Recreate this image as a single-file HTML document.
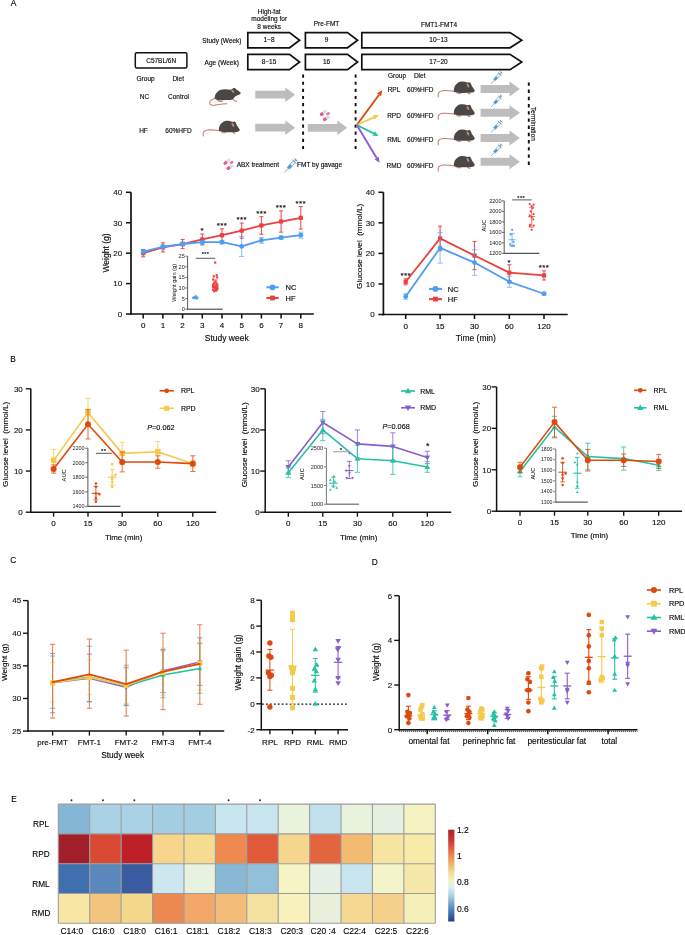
<!DOCTYPE html>
<html><head><meta charset="utf-8"><style>
html,body{margin:0;padding:0;background:#fff;overflow:hidden;}
svg{display:block;font-family:"Liberation Sans", sans-serif;will-change:transform;}
text{stroke:#1a1a1a;stroke-width:0.14px;}
</style></head><body>
<svg width="685" height="935" viewBox="0 0 685 935">
<rect width="685" height="935" fill="#fff"/>
<text x="13.5" y="6.24" font-size="8.5" text-anchor="middle" fill="#000">A</text>
<text x="269.2" y="14.03" font-size="6.5" text-anchor="middle" fill="#000">High-fat</text>
<text x="269.2" y="21.23" font-size="6.5" text-anchor="middle" fill="#000">modeling for</text>
<text x="269.2" y="28.53" font-size="6.5" text-anchor="middle" fill="#000">8 weeks</text>
<text x="326.5" y="26.33" font-size="6.5" text-anchor="middle" fill="#000">Pre-FMT</text>
<text x="439" y="27.13" font-size="6.5" text-anchor="middle" fill="#000">FMT1-FMT4</text>
<text x="221.9" y="42.53" font-size="6.5" text-anchor="middle" fill="#000">Study (Week)</text>
<text x="221.7" y="64.63" font-size="6.5" text-anchor="middle" fill="#000">Age (Week)</text>
<path d="M247.8,32.6 L289.5,32.6 L299.6,40.2 L289.5,47.8 L247.8,47.8 Z" fill="#fff" stroke="#111" stroke-width="1.7" stroke-linejoin="miter"/>
<path d="M305.4,32.6 L347.5,32.6 L357.6,40.2 L347.5,47.8 L305.4,47.8 Z" fill="#fff" stroke="#111" stroke-width="1.7" stroke-linejoin="miter"/>
<path d="M361.8,32.6 L510,32.6 L521.8,40.2 L510,47.8 L361.8,47.8 Z" fill="#fff" stroke="#111" stroke-width="1.7" stroke-linejoin="miter"/>
<path d="M247.8,54.4 L289.5,54.4 L299.6,62 L289.5,69.6 L247.8,69.6 Z" fill="#fff" stroke="#111" stroke-width="1.7" stroke-linejoin="miter"/>
<path d="M305.4,54.4 L347.5,54.4 L357.6,62 L347.5,69.6 L305.4,69.6 Z" fill="#fff" stroke="#111" stroke-width="1.7" stroke-linejoin="miter"/>
<path d="M361.8,54.4 L510,54.4 L521.8,62 L510,69.6 L361.8,69.6 Z" fill="#fff" stroke="#111" stroke-width="1.7" stroke-linejoin="miter"/>
<text x="269" y="42.33" font-size="6.5" text-anchor="middle" fill="#000">1~8</text>
<text x="269" y="64.13" font-size="6.5" text-anchor="middle" fill="#000">8~15</text>
<text x="326.5" y="42.33" font-size="6.5" text-anchor="middle" fill="#000">9</text>
<text x="326.5" y="64.13" font-size="6.5" text-anchor="middle" fill="#000">16</text>
<text x="438.5" y="42.33" font-size="6.5" text-anchor="middle" fill="#000">10~13</text>
<text x="438.5" y="64.13" font-size="6.5" text-anchor="middle" fill="#000">17~20</text>
<rect x="135.3" y="52.8" width="51.6" height="15.2" fill="#fff" stroke="#111" stroke-width="1.5" rx="1.5"/>
<text x="161.2" y="62.63" font-size="6.5" text-anchor="middle" fill="#000">C57BL/6N</text>
<text x="145.6" y="80.53" font-size="6.5" text-anchor="middle" fill="#000">Group</text>
<text x="178.2" y="80.53" font-size="6.5" text-anchor="middle" fill="#000">Diet</text>
<text x="144.5" y="99.23" font-size="6.5" text-anchor="middle" fill="#000">NC</text>
<text x="178.5" y="99.23" font-size="6.5" text-anchor="middle" fill="#000">Control</text>
<text x="143.5" y="132.93" font-size="6.5" text-anchor="middle" fill="#000">HF</text>
<text x="178.5" y="132.93" font-size="6.5" text-anchor="middle" fill="#000">60%HFD</text>
<g transform="translate(205,84) scale(1)">
<path d="M10.2,14.5 C7,15 4.8,16.5 4.7,19 C4.7,21 7,21.6 9.5,21.2 C13,20.7 17,19.8 21.9,19.7" fill="none" stroke="#c27b72" stroke-width="1.05" stroke-linecap="round"/>
<path d="M12.5,15.8 L14,17.3 L17,17.4" fill="none" stroke="#c27b72" stroke-width="1.1" stroke-linecap="round"/>
<path d="M27.5,14.8 L29.5,16.8 L31.8,17.2" fill="none" stroke="#c27b72" stroke-width="1.1" stroke-linecap="round"/>
<path d="M9.6,13.7 C9.8,10.5 12.5,7 15.8,5.8 C18,5 22,5 25.7,5.8 L28.3,4.2 C29.5,3.8 30.5,4.3 31,5.2 C33,6.2 34.5,7.5 35.9,9.1 C35.5,10.3 34,10.9 32.5,11.2 C31,11.8 30,12.5 29,14 C28,15.3 26.5,16 25.5,16 C23,16 21,15.8 18,16.2 C15,16.6 12,16.2 10.6,15.3 C10,14.9 9.6,14.3 9.6,13.7 Z" fill="#4b4745" stroke="none" stroke-width="1"/>
<path d="M26.2,5.4 C27.8,5.2 29,6.6 29.1,9 C27.5,9 26.3,7.4 26.2,5.4 Z" fill="#c98a80" stroke="none" stroke-width="1"/>
</g>
<g transform="translate(200,116) scale(1)">
<path d="M19.2,14.6 C15,14.2 11,13.6 8,14 C5,14.4 3.5,15.5 3.3,17 C3.1,18 3.2,19 3.3,20" fill="none" stroke="#c27b72" stroke-width="1.05" stroke-linecap="round"/>
<path d="M21.8,16 L23,16.6 L25.7,16.7" fill="none" stroke="#c27b72" stroke-width="1.1" stroke-linecap="round"/>
<path d="M32.8,16 L33.5,16.9 L35,17.2" fill="none" stroke="#c27b72" stroke-width="1.1" stroke-linecap="round"/>
<path d="M18.9,14.5 C18.5,10.5 21,6.5 24.5,5.3 C27,4.5 30,4.8 32.3,5.9 L34.8,5.5 C35.8,6.5 36.5,8 36.9,9.5 C38,10.8 39.3,12.5 39.8,14 C39.5,15.3 38,15.8 36.5,15.9 C34,16.2 30,16.3 26,16.2 C23,16.1 20.5,15.8 19.5,15.3 C19.1,15.1 18.9,14.8 18.9,14.5 Z" fill="#4b4745" stroke="none" stroke-width="1"/>
<path d="M31.5,6.9 C33.2,6.9 34.4,8.5 34.3,11 C32.7,10.9 31.5,9.2 31.5,6.9 Z" fill="#c98a80" stroke="none" stroke-width="1"/>
</g>
<path d="M255.3,90.8 L285.3,90.8 L285.3,87.4 L295.1,94.7 L285.3,102 L285.3,98.6 L255.3,98.6 Z" fill="#bdbdbd" stroke="none" stroke-width="1" stroke-linejoin="round"/>
<path d="M255.3,123.8 L285.3,123.8 L285.3,120.4 L295.1,127.7 L285.3,135 L285.3,131.6 L255.3,131.6 Z" fill="#bdbdbd" stroke="none" stroke-width="1" stroke-linejoin="round"/>
<path d="M307.8,123.9 L337.3,123.9 L337.3,120.5 L347.2,127.8 L337.3,135.1 L337.3,131.7 L307.8,131.7 Z" fill="#bdbdbd" stroke="none" stroke-width="1" stroke-linejoin="round"/>
<g transform="translate(325.2,115.6) scale(1)">
<g transform="translate(-1.9,-2.7) rotate(-40)">
<path d="M-1.2,-1.45 L-2.4,-1.45 A1.45,1.45 0 0 0 -2.4,1.45 L-1.2,1.45 Z" fill="#e35b80" stroke="none" stroke-width="1"/>
<path d="M-1.2,-1.45 L2.4,-1.45 A1.45,1.45 0 0 1 2.4,1.45 L-1.2,1.45 Z" fill="#dcdcdc" stroke="none" stroke-width="1"/>
<path d="M-1.2,-1.45 L-2.4,-1.45 A1.45,1.45 0 0 0 -2.4,1.45 L-0.2,1.45 L-0.2,-1.45 Z" fill="#e35b80" stroke="none" stroke-width="1"/>
</g>
<g transform="translate(1.3,2.8) rotate(-30)">
<path d="M-1.2,-1.45 L-2.4,-1.45 A1.45,1.45 0 0 0 -2.4,1.45 L-1.2,1.45 Z" fill="#e35b80" stroke="none" stroke-width="1"/>
<path d="M-1.2,-1.45 L2.4,-1.45 A1.45,1.45 0 0 1 2.4,1.45 L-1.2,1.45 Z" fill="#dcdcdc" stroke="none" stroke-width="1"/>
<path d="M-1.2,-1.45 L-2.4,-1.45 A1.45,1.45 0 0 0 -2.4,1.45 L-0.2,1.45 L-0.2,-1.45 Z" fill="#e35b80" stroke="none" stroke-width="1"/>
</g>
<ellipse cx="2.8" cy="-1.9" rx="2.0" ry="1.5" fill="#e67a9a" transform="rotate(-30 2.8 -1.9)"/>
</g>
<line x1="303.1" y1="74.5" x2="303.1" y2="149.1" stroke="#111" stroke-width="1.9" stroke-dasharray="3.2,3.94"/>
<line x1="355.6" y1="74.5" x2="355.6" y2="149.1" stroke="#111" stroke-width="1.9" stroke-dasharray="3.2,3.94"/>
<line x1="356.8" y1="125" x2="379.04" y2="94.73" stroke="#dc4a10" stroke-width="1.9"/>
<path d="M382.3,90.3 L381.06,96.21 L377.03,93.25 Z" fill="#dc4a10" stroke="none" stroke-width="1"/>
<line x1="356.8" y1="125" x2="373.89" y2="117.27" stroke="#f5c94a" stroke-width="1.9"/>
<path d="M378.9,115 L374.92,119.55 L372.86,114.99 Z" fill="#f5c94a" stroke="none" stroke-width="1"/>
<line x1="356.8" y1="125" x2="373.68" y2="133.44" stroke="#25c1a5" stroke-width="1.9"/>
<path d="M378.6,135.9 L372.56,135.68 L374.8,131.2 Z" fill="#25c1a5" stroke="none" stroke-width="1"/>
<line x1="356.8" y1="125" x2="376.66" y2="157.99" stroke="#8a5ccf" stroke-width="1.9"/>
<path d="M379.5,162.7 L374.52,159.28 L378.8,156.7 Z" fill="#8a5ccf" stroke="none" stroke-width="1"/>
<text x="397" y="77.63" font-size="6.5" text-anchor="middle" fill="#000">Group</text>
<text x="419.7" y="77.63" font-size="6.5" text-anchor="middle" fill="#000">Diet</text>
<text x="394" y="92.23" font-size="6.5" text-anchor="middle" fill="#000">RPL</text>
<text x="420.3" y="92.23" font-size="6.5" text-anchor="middle" fill="#000">60%HFD</text>
<text x="394" y="117.63" font-size="6.5" text-anchor="middle" fill="#000">RPD</text>
<text x="420.3" y="117.63" font-size="6.5" text-anchor="middle" fill="#000">60%HFD</text>
<text x="394" y="141.83" font-size="6.5" text-anchor="middle" fill="#000">RML</text>
<text x="420.3" y="141.83" font-size="6.5" text-anchor="middle" fill="#000">60%HFD</text>
<text x="394" y="168.13" font-size="6.5" text-anchor="middle" fill="#000">RMD</text>
<text x="420.3" y="168.13" font-size="6.5" text-anchor="middle" fill="#000">60%HFD</text>
<g transform="translate(435,76.7) scale(1)">
<path d="M19.2,14.6 C15,14.2 11,13.6 8,14 C5,14.4 3.5,15.5 3.3,17 C3.1,18 3.2,19 3.3,20" fill="none" stroke="#c27b72" stroke-width="1.05" stroke-linecap="round"/>
<path d="M21.8,16 L23,16.6 L25.7,16.7" fill="none" stroke="#c27b72" stroke-width="1.1" stroke-linecap="round"/>
<path d="M32.8,16 L33.5,16.9 L35,17.2" fill="none" stroke="#c27b72" stroke-width="1.1" stroke-linecap="round"/>
<path d="M18.9,14.5 C18.5,10.5 21,6.5 24.5,5.3 C27,4.5 30,4.8 32.3,5.9 L34.8,5.5 C35.8,6.5 36.5,8 36.9,9.5 C38,10.8 39.3,12.5 39.8,14 C39.5,15.3 38,15.8 36.5,15.9 C34,16.2 30,16.3 26,16.2 C23,16.1 20.5,15.8 19.5,15.3 C19.1,15.1 18.9,14.8 18.9,14.5 Z" fill="#4b4745" stroke="none" stroke-width="1"/>
<path d="M31.5,6.9 C33.2,6.9 34.4,8.5 34.3,11 C32.7,10.9 31.5,9.2 31.5,6.9 Z" fill="#c98a80" stroke="none" stroke-width="1"/>
</g>
<g transform="translate(435,99.3) scale(1)">
<path d="M19.2,14.6 C15,14.2 11,13.6 8,14 C5,14.4 3.5,15.5 3.3,17 C3.1,18 3.2,19 3.3,20" fill="none" stroke="#c27b72" stroke-width="1.05" stroke-linecap="round"/>
<path d="M21.8,16 L23,16.6 L25.7,16.7" fill="none" stroke="#c27b72" stroke-width="1.1" stroke-linecap="round"/>
<path d="M32.8,16 L33.5,16.9 L35,17.2" fill="none" stroke="#c27b72" stroke-width="1.1" stroke-linecap="round"/>
<path d="M18.9,14.5 C18.5,10.5 21,6.5 24.5,5.3 C27,4.5 30,4.8 32.3,5.9 L34.8,5.5 C35.8,6.5 36.5,8 36.9,9.5 C38,10.8 39.3,12.5 39.8,14 C39.5,15.3 38,15.8 36.5,15.9 C34,16.2 30,16.3 26,16.2 C23,16.1 20.5,15.8 19.5,15.3 C19.1,15.1 18.9,14.8 18.9,14.5 Z" fill="#4b4745" stroke="none" stroke-width="1"/>
<path d="M31.5,6.9 C33.2,6.9 34.4,8.5 34.3,11 C32.7,10.9 31.5,9.2 31.5,6.9 Z" fill="#c98a80" stroke="none" stroke-width="1"/>
</g>
<g transform="translate(435,124.6) scale(1)">
<path d="M19.2,14.6 C15,14.2 11,13.6 8,14 C5,14.4 3.5,15.5 3.3,17 C3.1,18 3.2,19 3.3,20" fill="none" stroke="#c27b72" stroke-width="1.05" stroke-linecap="round"/>
<path d="M21.8,16 L23,16.6 L25.7,16.7" fill="none" stroke="#c27b72" stroke-width="1.1" stroke-linecap="round"/>
<path d="M32.8,16 L33.5,16.9 L35,17.2" fill="none" stroke="#c27b72" stroke-width="1.1" stroke-linecap="round"/>
<path d="M18.9,14.5 C18.5,10.5 21,6.5 24.5,5.3 C27,4.5 30,4.8 32.3,5.9 L34.8,5.5 C35.8,6.5 36.5,8 36.9,9.5 C38,10.8 39.3,12.5 39.8,14 C39.5,15.3 38,15.8 36.5,15.9 C34,16.2 30,16.3 26,16.2 C23,16.1 20.5,15.8 19.5,15.3 C19.1,15.1 18.9,14.8 18.9,14.5 Z" fill="#4b4745" stroke="none" stroke-width="1"/>
<path d="M31.5,6.9 C33.2,6.9 34.4,8.5 34.3,11 C32.7,10.9 31.5,9.2 31.5,6.9 Z" fill="#c98a80" stroke="none" stroke-width="1"/>
</g>
<g transform="translate(435,151.1) scale(1)">
<path d="M19.2,14.6 C15,14.2 11,13.6 8,14 C5,14.4 3.5,15.5 3.3,17 C3.1,18 3.2,19 3.3,20" fill="none" stroke="#c27b72" stroke-width="1.05" stroke-linecap="round"/>
<path d="M21.8,16 L23,16.6 L25.7,16.7" fill="none" stroke="#c27b72" stroke-width="1.1" stroke-linecap="round"/>
<path d="M32.8,16 L33.5,16.9 L35,17.2" fill="none" stroke="#c27b72" stroke-width="1.1" stroke-linecap="round"/>
<path d="M18.9,14.5 C18.5,10.5 21,6.5 24.5,5.3 C27,4.5 30,4.8 32.3,5.9 L34.8,5.5 C35.8,6.5 36.5,8 36.9,9.5 C38,10.8 39.3,12.5 39.8,14 C39.5,15.3 38,15.8 36.5,15.9 C34,16.2 30,16.3 26,16.2 C23,16.1 20.5,15.8 19.5,15.3 C19.1,15.1 18.9,14.8 18.9,14.5 Z" fill="#4b4745" stroke="none" stroke-width="1"/>
<path d="M31.5,6.9 C33.2,6.9 34.4,8.5 34.3,11 C32.7,10.9 31.5,9.2 31.5,6.9 Z" fill="#c98a80" stroke="none" stroke-width="1"/>
</g>
<path d="M480.6,85 L509.5,85 L509.5,81.5 L519.9,89 L509.5,96.5 L509.5,93 L480.6,93 Z" fill="#bdbdbd" stroke="none" stroke-width="1" stroke-linejoin="round"/>
<path d="M480.6,108.7 L509.5,108.7 L509.5,105.2 L519.9,112.7 L509.5,120.2 L509.5,116.7 L480.6,116.7 Z" fill="#bdbdbd" stroke="none" stroke-width="1" stroke-linejoin="round"/>
<path d="M480.6,134 L509.5,134 L509.5,130.5 L519.9,138 L509.5,145.5 L509.5,142 L480.6,142 Z" fill="#bdbdbd" stroke="none" stroke-width="1" stroke-linejoin="round"/>
<path d="M480.6,157.7 L509.5,157.7 L509.5,154.2 L519.9,161.7 L509.5,169.2 L509.5,165.7 L480.6,165.7 Z" fill="#bdbdbd" stroke="none" stroke-width="1" stroke-linejoin="round"/>
<g transform="translate(491,83.8) rotate(-48) scale(0.88)">
<line x1="0" y1="0" x2="5.8" y2="0" stroke="#7aa2c4" stroke-width="0.8"/>
<rect x="5.8" y="-1.5" width="9.2" height="3" fill="#e6eef4" stroke="#6f9cc2" stroke-width="0.6"/>
<rect x="6" y="-1.25" width="4.2" height="2.5" fill="#3c98dc" stroke="none" stroke-width="1"/>
<line x1="15" y1="-2.6" x2="15" y2="2.6" stroke="#5f8fb8" stroke-width="0.9"/>
<line x1="15" y1="0" x2="17.3" y2="0" stroke="#5f8fb8" stroke-width="0.9"/>
<line x1="17.3" y1="-1.9" x2="17.3" y2="1.9" stroke="#5f8fb8" stroke-width="1"/>
</g>
<g transform="translate(491,107.1) rotate(-48) scale(0.88)">
<line x1="0" y1="0" x2="5.8" y2="0" stroke="#7aa2c4" stroke-width="0.8"/>
<rect x="5.8" y="-1.5" width="9.2" height="3" fill="#e6eef4" stroke="#6f9cc2" stroke-width="0.6"/>
<rect x="6" y="-1.25" width="4.2" height="2.5" fill="#3c98dc" stroke="none" stroke-width="1"/>
<line x1="15" y1="-2.6" x2="15" y2="2.6" stroke="#5f8fb8" stroke-width="0.9"/>
<line x1="15" y1="0" x2="17.3" y2="0" stroke="#5f8fb8" stroke-width="0.9"/>
<line x1="17.3" y1="-1.9" x2="17.3" y2="1.9" stroke="#5f8fb8" stroke-width="1"/>
</g>
<g transform="translate(491,132.5) rotate(-48) scale(0.88)">
<line x1="0" y1="0" x2="5.8" y2="0" stroke="#7aa2c4" stroke-width="0.8"/>
<rect x="5.8" y="-1.5" width="9.2" height="3" fill="#e6eef4" stroke="#6f9cc2" stroke-width="0.6"/>
<rect x="6" y="-1.25" width="4.2" height="2.5" fill="#3c98dc" stroke="none" stroke-width="1"/>
<line x1="15" y1="-2.6" x2="15" y2="2.6" stroke="#5f8fb8" stroke-width="0.9"/>
<line x1="15" y1="0" x2="17.3" y2="0" stroke="#5f8fb8" stroke-width="0.9"/>
<line x1="17.3" y1="-1.9" x2="17.3" y2="1.9" stroke="#5f8fb8" stroke-width="1"/>
</g>
<g transform="translate(491,156.1) rotate(-48) scale(0.88)">
<line x1="0" y1="0" x2="5.8" y2="0" stroke="#7aa2c4" stroke-width="0.8"/>
<rect x="5.8" y="-1.5" width="9.2" height="3" fill="#e6eef4" stroke="#6f9cc2" stroke-width="0.6"/>
<rect x="6" y="-1.25" width="4.2" height="2.5" fill="#3c98dc" stroke="none" stroke-width="1"/>
<line x1="15" y1="-2.6" x2="15" y2="2.6" stroke="#5f8fb8" stroke-width="0.9"/>
<line x1="15" y1="0" x2="17.3" y2="0" stroke="#5f8fb8" stroke-width="0.9"/>
<line x1="17.3" y1="-1.9" x2="17.3" y2="1.9" stroke="#5f8fb8" stroke-width="1"/>
</g>
<line x1="528.8" y1="82.4" x2="528.8" y2="165.1" stroke="#111" stroke-width="1.9" stroke-dasharray="3.4,3.8"/>
<text x="533.8" y="126.18" font-size="6.65" text-anchor="middle" fill="#000" transform="rotate(90 533.8 123.8)">Termination</text>
<g transform="translate(228.8,164.4) scale(1)">
<g transform="translate(-1.9,-2.7) rotate(-40)">
<path d="M-1.2,-1.45 L-2.4,-1.45 A1.45,1.45 0 0 0 -2.4,1.45 L-1.2,1.45 Z" fill="#e35b80" stroke="none" stroke-width="1"/>
<path d="M-1.2,-1.45 L2.4,-1.45 A1.45,1.45 0 0 1 2.4,1.45 L-1.2,1.45 Z" fill="#dcdcdc" stroke="none" stroke-width="1"/>
<path d="M-1.2,-1.45 L-2.4,-1.45 A1.45,1.45 0 0 0 -2.4,1.45 L-0.2,1.45 L-0.2,-1.45 Z" fill="#e35b80" stroke="none" stroke-width="1"/>
</g>
<g transform="translate(1.3,2.8) rotate(-30)">
<path d="M-1.2,-1.45 L-2.4,-1.45 A1.45,1.45 0 0 0 -2.4,1.45 L-1.2,1.45 Z" fill="#e35b80" stroke="none" stroke-width="1"/>
<path d="M-1.2,-1.45 L2.4,-1.45 A1.45,1.45 0 0 1 2.4,1.45 L-1.2,1.45 Z" fill="#dcdcdc" stroke="none" stroke-width="1"/>
<path d="M-1.2,-1.45 L-2.4,-1.45 A1.45,1.45 0 0 0 -2.4,1.45 L-0.2,1.45 L-0.2,-1.45 Z" fill="#e35b80" stroke="none" stroke-width="1"/>
</g>
<ellipse cx="2.8" cy="-1.9" rx="2.0" ry="1.5" fill="#e67a9a" transform="rotate(-30 2.8 -1.9)"/>
</g>
<text x="236.7" y="167.13" font-size="6.5" text-anchor="start" fill="#000">ABX treatment</text>
<g transform="translate(284.3,172.7) rotate(-48) scale(1)">
<line x1="0" y1="0" x2="5.8" y2="0" stroke="#7aa2c4" stroke-width="0.8"/>
<rect x="5.8" y="-1.5" width="9.2" height="3" fill="#e6eef4" stroke="#6f9cc2" stroke-width="0.6"/>
<rect x="6" y="-1.25" width="4.2" height="2.5" fill="#3c98dc" stroke="none" stroke-width="1"/>
<line x1="15" y1="-2.6" x2="15" y2="2.6" stroke="#5f8fb8" stroke-width="0.9"/>
<line x1="15" y1="0" x2="17.3" y2="0" stroke="#5f8fb8" stroke-width="0.9"/>
<line x1="17.3" y1="-1.9" x2="17.3" y2="1.9" stroke="#5f8fb8" stroke-width="1"/>
</g>
<text x="297" y="167.13" font-size="6.5" text-anchor="start" fill="#000">FMT by gavage</text>
<line x1="131" y1="192.3" x2="131" y2="314.85" stroke="#111" stroke-width="1.7"/>
<line x1="126" y1="314" x2="131" y2="314" stroke="#111" stroke-width="1.53"/>
<text x="122.2" y="316.86" font-size="8" text-anchor="end" fill="#111">0</text>
<line x1="126" y1="283.57" x2="131" y2="283.57" stroke="#111" stroke-width="1.53"/>
<text x="122.2" y="286.44" font-size="8" text-anchor="end" fill="#111">10</text>
<line x1="126" y1="253.15" x2="131" y2="253.15" stroke="#111" stroke-width="1.53"/>
<text x="122.2" y="256.01" font-size="8" text-anchor="end" fill="#111">20</text>
<line x1="126" y1="222.73" x2="131" y2="222.73" stroke="#111" stroke-width="1.53"/>
<text x="122.2" y="225.59" font-size="8" text-anchor="end" fill="#111">30</text>
<line x1="126" y1="192.3" x2="131" y2="192.3" stroke="#111" stroke-width="1.53"/>
<text x="122.2" y="195.16" font-size="8" text-anchor="end" fill="#111">40</text>
<line x1="130.15" y1="314" x2="313.8" y2="314" stroke="#111" stroke-width="1.7"/>
<line x1="143.2" y1="314" x2="143.2" y2="318.5" stroke="#111" stroke-width="1.53"/>
<text x="143.2" y="328.06" font-size="8" text-anchor="middle" fill="#000">0</text>
<line x1="162.9" y1="314" x2="162.9" y2="318.5" stroke="#111" stroke-width="1.53"/>
<text x="162.9" y="328.06" font-size="8" text-anchor="middle" fill="#000">1</text>
<line x1="182.6" y1="314" x2="182.6" y2="318.5" stroke="#111" stroke-width="1.53"/>
<text x="182.6" y="328.06" font-size="8" text-anchor="middle" fill="#000">2</text>
<line x1="202.3" y1="314" x2="202.3" y2="318.5" stroke="#111" stroke-width="1.53"/>
<text x="202.3" y="328.06" font-size="8" text-anchor="middle" fill="#000">3</text>
<line x1="222" y1="314" x2="222" y2="318.5" stroke="#111" stroke-width="1.53"/>
<text x="222" y="328.06" font-size="8" text-anchor="middle" fill="#000">4</text>
<line x1="241.7" y1="314" x2="241.7" y2="318.5" stroke="#111" stroke-width="1.53"/>
<text x="241.7" y="328.06" font-size="8" text-anchor="middle" fill="#000">5</text>
<line x1="261.4" y1="314" x2="261.4" y2="318.5" stroke="#111" stroke-width="1.53"/>
<text x="261.4" y="328.06" font-size="8" text-anchor="middle" fill="#000">6</text>
<line x1="281.1" y1="314" x2="281.1" y2="318.5" stroke="#111" stroke-width="1.53"/>
<text x="281.1" y="328.06" font-size="8" text-anchor="middle" fill="#000">7</text>
<line x1="300.8" y1="314" x2="300.8" y2="318.5" stroke="#111" stroke-width="1.53"/>
<text x="300.8" y="328.06" font-size="8" text-anchor="middle" fill="#000">8</text>
<text x="226.7" y="341.24" font-size="8.5" text-anchor="middle" fill="#000">Study week</text>
<text x="106" y="256.04" font-size="8.5" text-anchor="middle" fill="#000" transform="rotate(-90 106 253)">Weight (g)</text>
<g opacity="0.9">
<line x1="143.2" y1="249.5" x2="143.2" y2="256.8" stroke="#ec3f3f" stroke-width="1.1"/>
<line x1="141.2" y1="249.5" x2="145.2" y2="249.5" stroke="#ec3f3f" stroke-width="1.1"/>
<line x1="141.2" y1="256.8" x2="145.2" y2="256.8" stroke="#ec3f3f" stroke-width="1.1"/>
</g>
<g opacity="0.9">
<line x1="162.9" y1="242.81" x2="162.9" y2="251.93" stroke="#ec3f3f" stroke-width="1.1"/>
<line x1="160.9" y1="242.81" x2="164.9" y2="242.81" stroke="#ec3f3f" stroke-width="1.1"/>
<line x1="160.9" y1="251.93" x2="164.9" y2="251.93" stroke="#ec3f3f" stroke-width="1.1"/>
</g>
<g opacity="0.9">
<line x1="182.6" y1="239.46" x2="182.6" y2="248.59" stroke="#ec3f3f" stroke-width="1.1"/>
<line x1="180.6" y1="239.46" x2="184.6" y2="239.46" stroke="#ec3f3f" stroke-width="1.1"/>
<line x1="180.6" y1="248.59" x2="184.6" y2="248.59" stroke="#ec3f3f" stroke-width="1.1"/>
</g>
<g opacity="0.9">
<line x1="202.3" y1="233.98" x2="202.3" y2="244.94" stroke="#ec3f3f" stroke-width="1.1"/>
<line x1="200.3" y1="233.98" x2="204.3" y2="233.98" stroke="#ec3f3f" stroke-width="1.1"/>
<line x1="200.3" y1="244.94" x2="204.3" y2="244.94" stroke="#ec3f3f" stroke-width="1.1"/>
</g>
<g opacity="0.9">
<line x1="222" y1="228.81" x2="222" y2="241.59" stroke="#ec3f3f" stroke-width="1.1"/>
<line x1="220" y1="228.81" x2="224" y2="228.81" stroke="#ec3f3f" stroke-width="1.1"/>
<line x1="220" y1="241.59" x2="224" y2="241.59" stroke="#ec3f3f" stroke-width="1.1"/>
</g>
<g opacity="0.9">
<line x1="241.7" y1="223.03" x2="241.7" y2="238.24" stroke="#ec3f3f" stroke-width="1.1"/>
<line x1="239.7" y1="223.03" x2="243.7" y2="223.03" stroke="#ec3f3f" stroke-width="1.1"/>
<line x1="239.7" y1="238.24" x2="243.7" y2="238.24" stroke="#ec3f3f" stroke-width="1.1"/>
</g>
<g opacity="0.9">
<line x1="261.4" y1="216.64" x2="261.4" y2="234.29" stroke="#ec3f3f" stroke-width="1.1"/>
<line x1="259.4" y1="216.64" x2="263.4" y2="216.64" stroke="#ec3f3f" stroke-width="1.1"/>
<line x1="259.4" y1="234.29" x2="263.4" y2="234.29" stroke="#ec3f3f" stroke-width="1.1"/>
</g>
<g opacity="0.9">
<line x1="281.1" y1="210.86" x2="281.1" y2="232.16" stroke="#ec3f3f" stroke-width="1.1"/>
<line x1="279.1" y1="210.86" x2="283.1" y2="210.86" stroke="#ec3f3f" stroke-width="1.1"/>
<line x1="279.1" y1="232.16" x2="283.1" y2="232.16" stroke="#ec3f3f" stroke-width="1.1"/>
</g>
<g opacity="0.9">
<line x1="300.8" y1="206.6" x2="300.8" y2="229.11" stroke="#ec3f3f" stroke-width="1.1"/>
<line x1="298.8" y1="206.6" x2="302.8" y2="206.6" stroke="#ec3f3f" stroke-width="1.1"/>
<line x1="298.8" y1="229.11" x2="302.8" y2="229.11" stroke="#ec3f3f" stroke-width="1.1"/>
</g>
<path d="M143.2,253.15 L162.9,247.37 L182.6,244.02 L202.3,239.46 L222,235.2 L241.7,230.64 L261.4,225.46 L281.1,221.51 L300.8,217.86" fill="none" stroke="#ec3f3f" stroke-width="1.8" stroke-linejoin="round"/>
<rect x="141.1" y="251.05" width="4.2" height="4.2" fill="#ec3f3f" stroke="none" stroke-width="1"/>
<rect x="160.8" y="245.27" width="4.2" height="4.2" fill="#ec3f3f" stroke="none" stroke-width="1"/>
<rect x="180.5" y="241.92" width="4.2" height="4.2" fill="#ec3f3f" stroke="none" stroke-width="1"/>
<rect x="200.2" y="237.36" width="4.2" height="4.2" fill="#ec3f3f" stroke="none" stroke-width="1"/>
<rect x="219.9" y="233.1" width="4.2" height="4.2" fill="#ec3f3f" stroke="none" stroke-width="1"/>
<rect x="239.6" y="228.54" width="4.2" height="4.2" fill="#ec3f3f" stroke="none" stroke-width="1"/>
<rect x="259.3" y="223.36" width="4.2" height="4.2" fill="#ec3f3f" stroke="none" stroke-width="1"/>
<rect x="279" y="219.41" width="4.2" height="4.2" fill="#ec3f3f" stroke="none" stroke-width="1"/>
<rect x="298.7" y="215.76" width="4.2" height="4.2" fill="#ec3f3f" stroke="none" stroke-width="1"/>
<g opacity="0.6">
<line x1="143.2" y1="249.5" x2="143.2" y2="253.76" stroke="#4e9df2" stroke-width="1.1"/>
<line x1="140.6" y1="249.5" x2="145.8" y2="249.5" stroke="#4e9df2" stroke-width="1.1"/>
<line x1="140.6" y1="253.76" x2="145.8" y2="253.76" stroke="#4e9df2" stroke-width="1.1"/>
</g>
<g opacity="0.6">
<line x1="162.9" y1="244.94" x2="162.9" y2="248.59" stroke="#4e9df2" stroke-width="1.1"/>
<line x1="160.3" y1="244.94" x2="165.5" y2="244.94" stroke="#4e9df2" stroke-width="1.1"/>
<line x1="160.3" y1="248.59" x2="165.5" y2="248.59" stroke="#4e9df2" stroke-width="1.1"/>
</g>
<g opacity="0.6">
<line x1="182.6" y1="242.2" x2="182.6" y2="245.85" stroke="#4e9df2" stroke-width="1.1"/>
<line x1="180" y1="242.2" x2="185.2" y2="242.2" stroke="#4e9df2" stroke-width="1.1"/>
<line x1="180" y1="245.85" x2="185.2" y2="245.85" stroke="#4e9df2" stroke-width="1.1"/>
</g>
<g opacity="0.6">
<line x1="202.3" y1="240.37" x2="202.3" y2="244.02" stroke="#4e9df2" stroke-width="1.1"/>
<line x1="199.7" y1="240.37" x2="204.9" y2="240.37" stroke="#4e9df2" stroke-width="1.1"/>
<line x1="199.7" y1="244.02" x2="204.9" y2="244.02" stroke="#4e9df2" stroke-width="1.1"/>
</g>
<g opacity="0.6">
<line x1="222" y1="240.37" x2="222" y2="244.02" stroke="#4e9df2" stroke-width="1.1"/>
<line x1="219.4" y1="240.37" x2="224.6" y2="240.37" stroke="#4e9df2" stroke-width="1.1"/>
<line x1="219.4" y1="244.02" x2="224.6" y2="244.02" stroke="#4e9df2" stroke-width="1.1"/>
</g>
<g opacity="0.6">
<line x1="241.7" y1="236.42" x2="241.7" y2="256.5" stroke="#4e9df2" stroke-width="1.1"/>
<line x1="239.1" y1="236.42" x2="244.3" y2="236.42" stroke="#4e9df2" stroke-width="1.1"/>
<line x1="239.1" y1="256.5" x2="244.3" y2="256.5" stroke="#4e9df2" stroke-width="1.1"/>
</g>
<g opacity="0.6">
<line x1="261.4" y1="237.48" x2="261.4" y2="243.26" stroke="#4e9df2" stroke-width="1.1"/>
<line x1="258.8" y1="237.48" x2="264" y2="237.48" stroke="#4e9df2" stroke-width="1.1"/>
<line x1="258.8" y1="243.26" x2="264" y2="243.26" stroke="#4e9df2" stroke-width="1.1"/>
</g>
<g opacity="0.6">
<line x1="281.1" y1="235.96" x2="281.1" y2="239.31" stroke="#4e9df2" stroke-width="1.1"/>
<line x1="278.5" y1="235.96" x2="283.7" y2="235.96" stroke="#4e9df2" stroke-width="1.1"/>
<line x1="278.5" y1="239.31" x2="283.7" y2="239.31" stroke="#4e9df2" stroke-width="1.1"/>
</g>
<g opacity="0.6">
<line x1="300.8" y1="232.16" x2="300.8" y2="238.24" stroke="#4e9df2" stroke-width="1.1"/>
<line x1="298.2" y1="232.16" x2="303.4" y2="232.16" stroke="#4e9df2" stroke-width="1.1"/>
<line x1="298.2" y1="238.24" x2="303.4" y2="238.24" stroke="#4e9df2" stroke-width="1.1"/>
</g>
<path d="M143.2,251.63 L162.9,246.76 L182.6,244.02 L202.3,242.2 L222,242.2 L241.7,246.46 L261.4,240.37 L281.1,237.63 L300.8,235.2" fill="none" stroke="#4e9df2" stroke-width="1.8" stroke-linejoin="round"/>
<circle cx="143.2" cy="251.63" r="2.4" fill="#4e9df2" stroke="none" stroke-width="1"/>
<circle cx="162.9" cy="246.76" r="2.4" fill="#4e9df2" stroke="none" stroke-width="1"/>
<circle cx="182.6" cy="244.02" r="2.4" fill="#4e9df2" stroke="none" stroke-width="1"/>
<circle cx="202.3" cy="242.2" r="2.4" fill="#4e9df2" stroke="none" stroke-width="1"/>
<circle cx="222" cy="242.2" r="2.4" fill="#4e9df2" stroke="none" stroke-width="1"/>
<circle cx="241.7" cy="246.46" r="2.4" fill="#4e9df2" stroke="none" stroke-width="1"/>
<circle cx="261.4" cy="240.37" r="2.4" fill="#4e9df2" stroke="none" stroke-width="1"/>
<circle cx="281.1" cy="237.63" r="2.4" fill="#4e9df2" stroke="none" stroke-width="1"/>
<circle cx="300.8" cy="235.2" r="2.4" fill="#4e9df2" stroke="none" stroke-width="1"/>
<text x="202.3" y="233.14" font-size="8" text-anchor="middle" letter-spacing="0.4">*</text>
<text x="222" y="227.97" font-size="8" text-anchor="middle" letter-spacing="0.4">***</text>
<text x="241.7" y="222.19" font-size="8" text-anchor="middle" letter-spacing="0.4">***</text>
<text x="261.4" y="215.8" font-size="8" text-anchor="middle" letter-spacing="0.4">***</text>
<text x="281.1" y="210.02" font-size="8" text-anchor="middle" letter-spacing="0.4">***</text>
<text x="300.8" y="205.76" font-size="8" text-anchor="middle" letter-spacing="0.4">***</text>
<line x1="266.4" y1="287.3" x2="278.7" y2="287.3" stroke="#4e9df2" stroke-width="2"/>
<circle cx="272.5" cy="287.3" r="2.9" fill="#4e9df2" stroke="none" stroke-width="1"/>
<text x="285.5" y="289.99" font-size="7.5" text-anchor="start" fill="#000">NC</text>
<line x1="266.4" y1="298" x2="278.7" y2="298" stroke="#ec3f3f" stroke-width="2"/>
<rect x="270.1" y="295.6" width="4.8" height="4.8" fill="#ec3f3f" stroke="none" stroke-width="1"/>
<text x="285.5" y="300.69" font-size="7.5" text-anchor="start" fill="#000">HF</text>
<line x1="187.6" y1="256.2" x2="187.6" y2="309.65" stroke="#444" stroke-width="0.9"/>
<line x1="185.4" y1="309.2" x2="187.6" y2="309.2" stroke="#444" stroke-width="0.81"/>
<text x="184.8" y="311.2" font-size="5.6" text-anchor="end" fill="#222" style="stroke:none">0</text>
<line x1="185.4" y1="298.6" x2="187.6" y2="298.6" stroke="#444" stroke-width="0.81"/>
<text x="184.8" y="300.6" font-size="5.6" text-anchor="end" fill="#222" style="stroke:none">5</text>
<line x1="185.4" y1="288" x2="187.6" y2="288" stroke="#444" stroke-width="0.81"/>
<text x="184.8" y="290" font-size="5.6" text-anchor="end" fill="#222" style="stroke:none">10</text>
<line x1="185.4" y1="277.4" x2="187.6" y2="277.4" stroke="#444" stroke-width="0.81"/>
<text x="184.8" y="279.4" font-size="5.6" text-anchor="end" fill="#222" style="stroke:none">15</text>
<line x1="185.4" y1="266.8" x2="187.6" y2="266.8" stroke="#444" stroke-width="0.81"/>
<text x="184.8" y="268.8" font-size="5.6" text-anchor="end" fill="#222" style="stroke:none">20</text>
<line x1="185.4" y1="256.2" x2="187.6" y2="256.2" stroke="#444" stroke-width="0.81"/>
<text x="184.8" y="258.2" font-size="5.6" text-anchor="end" fill="#222" style="stroke:none">25</text>
<line x1="187.6" y1="309.2" x2="222.8" y2="309.2" stroke="#333" stroke-width="1"/>
<text x="173.6" y="284.8" font-size="5.6" text-anchor="middle" fill="#000" transform="rotate(-90 173.6 282.8)" style="stroke:none">Weight gain (g)</text>
<line x1="195.8" y1="258.3" x2="215.2" y2="258.3" stroke="#333" stroke-width="0.8"/>
<text x="205.5" y="255.61" font-size="5.6" text-anchor="middle" letter-spacing="0.4">***</text>
<line x1="191.8" y1="297.54" x2="198.8" y2="297.54" stroke="#4e9df2" stroke-width="0.84"/>
<line x1="195.3" y1="296.48" x2="195.3" y2="298.6" stroke="#4e9df2" stroke-width="0.7"/>
<line x1="192.8" y1="296.48" x2="197.8" y2="296.48" stroke="#4e9df2" stroke-width="0.7"/>
<line x1="192.8" y1="298.6" x2="197.8" y2="298.6" stroke="#4e9df2" stroke-width="0.7"/>
<path d="M193.3,296.92 L194.51,299.01 L192.09,299.01 Z" fill="#4e9df2" stroke="none" stroke-width="1"/>
<path d="M194.3,296.5 L195.51,298.59 L193.09,298.59 Z" fill="#4e9df2" stroke="none" stroke-width="1"/>
<path d="M195.3,296.07 L196.51,298.16 L194.09,298.16 Z" fill="#4e9df2" stroke="none" stroke-width="1"/>
<path d="M196.3,296.71 L197.51,298.8 L195.09,298.8 Z" fill="#4e9df2" stroke="none" stroke-width="1"/>
<path d="M197.3,296.29 L198.51,298.38 L196.09,298.38 Z" fill="#4e9df2" stroke="none" stroke-width="1"/>
<path d="M195.8,294.38 L197.01,296.47 L194.59,296.47 Z" fill="#4e9df2" stroke="none" stroke-width="1"/>
<path d="M194.8,295.65 L196.01,297.74 L193.59,297.74 Z" fill="#4e9df2" stroke="none" stroke-width="1"/>
<path d="M196.8,297.35 L198.01,299.44 L195.59,299.44 Z" fill="#4e9df2" stroke="none" stroke-width="1"/>
<line x1="211.7" y1="284.18" x2="218.7" y2="284.18" stroke="#ec3f3f" stroke-width="0.84"/>
<line x1="215.2" y1="279.94" x2="215.2" y2="289.06" stroke="#ec3f3f" stroke-width="0.7"/>
<line x1="212.7" y1="279.94" x2="217.7" y2="279.94" stroke="#ec3f3f" stroke-width="0.7"/>
<line x1="212.7" y1="289.06" x2="217.7" y2="289.06" stroke="#ec3f3f" stroke-width="0.7"/>
<rect x="214.1" y="261.46" width="2.2" height="2.2" fill="#ec3f3f" stroke="none" stroke-width="1"/>
<rect x="215.6" y="274.18" width="2.2" height="2.2" fill="#ec3f3f" stroke="none" stroke-width="1"/>
<rect x="212.6" y="275.24" width="2.2" height="2.2" fill="#ec3f3f" stroke="none" stroke-width="1"/>
<rect x="216.1" y="276.3" width="2.2" height="2.2" fill="#ec3f3f" stroke="none" stroke-width="1"/>
<rect x="212.1" y="278.42" width="2.2" height="2.2" fill="#ec3f3f" stroke="none" stroke-width="1"/>
<rect x="214.6" y="280.54" width="2.2" height="2.2" fill="#ec3f3f" stroke="none" stroke-width="1"/>
<rect x="213.1" y="281.6" width="2.2" height="2.2" fill="#ec3f3f" stroke="none" stroke-width="1"/>
<rect x="215.6" y="282.66" width="2.2" height="2.2" fill="#ec3f3f" stroke="none" stroke-width="1"/>
<rect x="212.1" y="283.72" width="2.2" height="2.2" fill="#ec3f3f" stroke="none" stroke-width="1"/>
<rect x="216.1" y="284.78" width="2.2" height="2.2" fill="#ec3f3f" stroke="none" stroke-width="1"/>
<rect x="214.1" y="285.2" width="2.2" height="2.2" fill="#ec3f3f" stroke="none" stroke-width="1"/>
<rect x="212.6" y="285.84" width="2.2" height="2.2" fill="#ec3f3f" stroke="none" stroke-width="1"/>
<rect x="215.1" y="286.9" width="2.2" height="2.2" fill="#ec3f3f" stroke="none" stroke-width="1"/>
<rect x="213.6" y="287.32" width="2.2" height="2.2" fill="#ec3f3f" stroke="none" stroke-width="1"/>
<rect x="216.1" y="287.96" width="2.2" height="2.2" fill="#ec3f3f" stroke="none" stroke-width="1"/>
<rect x="212.1" y="288.6" width="2.2" height="2.2" fill="#ec3f3f" stroke="none" stroke-width="1"/>
<rect x="214.6" y="289.02" width="2.2" height="2.2" fill="#ec3f3f" stroke="none" stroke-width="1"/>
<rect x="215.3" y="289.44" width="2.2" height="2.2" fill="#ec3f3f" stroke="none" stroke-width="1"/>
<rect x="213.1" y="290.08" width="2.2" height="2.2" fill="#ec3f3f" stroke="none" stroke-width="1"/>
<rect x="216.3" y="286.48" width="2.2" height="2.2" fill="#ec3f3f" stroke="none" stroke-width="1"/>
<rect x="211.9" y="285.63" width="2.2" height="2.2" fill="#ec3f3f" stroke="none" stroke-width="1"/>
<line x1="383.4" y1="192.3" x2="383.4" y2="315.35" stroke="#111" stroke-width="1.7"/>
<line x1="378.4" y1="314.5" x2="383.4" y2="314.5" stroke="#111" stroke-width="1.53"/>
<text x="374.6" y="317.36" font-size="8" text-anchor="end" fill="#111">0</text>
<line x1="378.4" y1="283.95" x2="383.4" y2="283.95" stroke="#111" stroke-width="1.53"/>
<text x="374.6" y="286.81" font-size="8" text-anchor="end" fill="#111">10</text>
<line x1="378.4" y1="253.4" x2="383.4" y2="253.4" stroke="#111" stroke-width="1.53"/>
<text x="374.6" y="256.26" font-size="8" text-anchor="end" fill="#111">20</text>
<line x1="378.4" y1="222.85" x2="383.4" y2="222.85" stroke="#111" stroke-width="1.53"/>
<text x="374.6" y="225.71" font-size="8" text-anchor="end" fill="#111">30</text>
<line x1="378.4" y1="192.3" x2="383.4" y2="192.3" stroke="#111" stroke-width="1.53"/>
<text x="374.6" y="195.16" font-size="8" text-anchor="end" fill="#111">40</text>
<line x1="382.55" y1="314.5" x2="567.7" y2="314.5" stroke="#111" stroke-width="1.7"/>
<line x1="405.7" y1="314.5" x2="405.7" y2="319" stroke="#111" stroke-width="1.53"/>
<text x="405.7" y="328.56" font-size="8" text-anchor="middle" fill="#000">0</text>
<line x1="440.1" y1="314.5" x2="440.1" y2="319" stroke="#111" stroke-width="1.53"/>
<text x="440.1" y="328.56" font-size="8" text-anchor="middle" fill="#000">15</text>
<line x1="474.5" y1="314.5" x2="474.5" y2="319" stroke="#111" stroke-width="1.53"/>
<text x="474.5" y="328.56" font-size="8" text-anchor="middle" fill="#000">30</text>
<line x1="509.3" y1="314.5" x2="509.3" y2="319" stroke="#111" stroke-width="1.53"/>
<text x="509.3" y="328.56" font-size="8" text-anchor="middle" fill="#000">60</text>
<line x1="544" y1="314.5" x2="544" y2="319" stroke="#111" stroke-width="1.53"/>
<text x="544" y="328.56" font-size="8" text-anchor="middle" fill="#000">120</text>
<text x="475.8" y="341.24" font-size="8.5" text-anchor="middle" fill="#000">Time (min)</text>
<text x="358.7" y="249.3" font-size="8.1" text-anchor="middle" fill="#000" transform="rotate(-90 358.7 246.4)">Glucose level &#160;(mmol/L)</text>
<g opacity="0.9">
<line x1="405.7" y1="278.76" x2="405.7" y2="284.87" stroke="#ec3f3f" stroke-width="1.1"/>
<line x1="403.7" y1="278.76" x2="407.7" y2="278.76" stroke="#ec3f3f" stroke-width="1.1"/>
<line x1="403.7" y1="284.87" x2="407.7" y2="284.87" stroke="#ec3f3f" stroke-width="1.1"/>
</g>
<g opacity="0.9">
<line x1="440.1" y1="226.21" x2="440.1" y2="250.65" stroke="#ec3f3f" stroke-width="1.1"/>
<line x1="438.1" y1="226.21" x2="442.1" y2="226.21" stroke="#ec3f3f" stroke-width="1.1"/>
<line x1="438.1" y1="250.65" x2="442.1" y2="250.65" stroke="#ec3f3f" stroke-width="1.1"/>
</g>
<g opacity="0.9">
<line x1="474.5" y1="241.49" x2="474.5" y2="269.59" stroke="#ec3f3f" stroke-width="1.1"/>
<line x1="472.5" y1="241.49" x2="476.5" y2="241.49" stroke="#ec3f3f" stroke-width="1.1"/>
<line x1="472.5" y1="269.59" x2="476.5" y2="269.59" stroke="#ec3f3f" stroke-width="1.1"/>
</g>
<g opacity="0.9">
<line x1="509.3" y1="264.7" x2="509.3" y2="280.59" stroke="#ec3f3f" stroke-width="1.1"/>
<line x1="507.3" y1="264.7" x2="511.3" y2="264.7" stroke="#ec3f3f" stroke-width="1.1"/>
<line x1="507.3" y1="280.59" x2="511.3" y2="280.59" stroke="#ec3f3f" stroke-width="1.1"/>
</g>
<g opacity="0.9">
<line x1="544" y1="270.81" x2="544" y2="279.98" stroke="#ec3f3f" stroke-width="1.1"/>
<line x1="542" y1="270.81" x2="546" y2="270.81" stroke="#ec3f3f" stroke-width="1.1"/>
<line x1="542" y1="279.98" x2="546" y2="279.98" stroke="#ec3f3f" stroke-width="1.1"/>
</g>
<path d="M405.7,281.81 L440.1,238.43 L474.5,255.54 L509.3,272.65 L544,275.4" fill="none" stroke="#ec3f3f" stroke-width="1.8" stroke-linejoin="round"/>
<rect x="403.6" y="279.71" width="4.2" height="4.2" fill="#ec3f3f" stroke="none" stroke-width="1"/>
<rect x="438" y="236.33" width="4.2" height="4.2" fill="#ec3f3f" stroke="none" stroke-width="1"/>
<rect x="472.4" y="253.44" width="4.2" height="4.2" fill="#ec3f3f" stroke="none" stroke-width="1"/>
<rect x="507.2" y="270.55" width="4.2" height="4.2" fill="#ec3f3f" stroke="none" stroke-width="1"/>
<rect x="541.9" y="273.3" width="4.2" height="4.2" fill="#ec3f3f" stroke="none" stroke-width="1"/>
<g opacity="0.6">
<line x1="405.7" y1="293.73" x2="405.7" y2="299.23" stroke="#4e9df2" stroke-width="1.1"/>
<line x1="403.1" y1="293.73" x2="408.3" y2="293.73" stroke="#4e9df2" stroke-width="1.1"/>
<line x1="403.1" y1="299.23" x2="408.3" y2="299.23" stroke="#4e9df2" stroke-width="1.1"/>
</g>
<g opacity="0.6">
<line x1="440.1" y1="232.63" x2="440.1" y2="263.18" stroke="#4e9df2" stroke-width="1.1"/>
<line x1="437.5" y1="232.63" x2="442.7" y2="232.63" stroke="#4e9df2" stroke-width="1.1"/>
<line x1="437.5" y1="263.18" x2="442.7" y2="263.18" stroke="#4e9df2" stroke-width="1.1"/>
</g>
<g opacity="0.6">
<line x1="474.5" y1="249.73" x2="474.5" y2="275.4" stroke="#4e9df2" stroke-width="1.1"/>
<line x1="471.9" y1="249.73" x2="477.1" y2="249.73" stroke="#4e9df2" stroke-width="1.1"/>
<line x1="471.9" y1="275.4" x2="477.1" y2="275.4" stroke="#4e9df2" stroke-width="1.1"/>
</g>
<g opacity="0.6">
<line x1="509.3" y1="276.31" x2="509.3" y2="287.31" stroke="#4e9df2" stroke-width="1.1"/>
<line x1="506.7" y1="276.31" x2="511.9" y2="276.31" stroke="#4e9df2" stroke-width="1.1"/>
<line x1="506.7" y1="287.31" x2="511.9" y2="287.31" stroke="#4e9df2" stroke-width="1.1"/>
</g>
<g opacity="0.6">
<line x1="544" y1="292.5" x2="544" y2="294.95" stroke="#4e9df2" stroke-width="1.1"/>
<line x1="541.4" y1="292.5" x2="546.6" y2="292.5" stroke="#4e9df2" stroke-width="1.1"/>
<line x1="541.4" y1="294.95" x2="546.6" y2="294.95" stroke="#4e9df2" stroke-width="1.1"/>
</g>
<path d="M405.7,296.48 L440.1,247.9 L474.5,262.56 L509.3,281.81 L544,293.73" fill="none" stroke="#4e9df2" stroke-width="1.8" stroke-linejoin="round"/>
<circle cx="405.7" cy="296.48" r="2.4" fill="#4e9df2" stroke="none" stroke-width="1"/>
<circle cx="440.1" cy="247.9" r="2.4" fill="#4e9df2" stroke="none" stroke-width="1"/>
<circle cx="474.5" cy="262.56" r="2.4" fill="#4e9df2" stroke="none" stroke-width="1"/>
<circle cx="509.3" cy="281.81" r="2.4" fill="#4e9df2" stroke="none" stroke-width="1"/>
<circle cx="544" cy="293.73" r="2.4" fill="#4e9df2" stroke="none" stroke-width="1"/>
<text x="405.7" y="278.36" font-size="8" text-anchor="middle" letter-spacing="0.4">***</text>
<text x="509.3" y="264.86" font-size="8" text-anchor="middle" letter-spacing="0.4">*</text>
<text x="544" y="269.96" font-size="8" text-anchor="middle" letter-spacing="0.4">***</text>
<line x1="429" y1="288.9" x2="442" y2="288.9" stroke="#4e9df2" stroke-width="2"/>
<circle cx="435.5" cy="288.9" r="2.9" fill="#4e9df2" stroke="none" stroke-width="1"/>
<text x="447.8" y="291.58" font-size="7.5" text-anchor="start" fill="#000">NC</text>
<line x1="429" y1="299.1" x2="442" y2="299.1" stroke="#ec3f3f" stroke-width="2"/>
<rect x="433.1" y="296.7" width="4.8" height="4.8" fill="#ec3f3f" stroke="none" stroke-width="1"/>
<text x="447.8" y="301.79" font-size="7.5" text-anchor="start" fill="#000">HF</text>
<line x1="504.2" y1="200.9" x2="504.2" y2="253.85" stroke="#444" stroke-width="0.9"/>
<line x1="502" y1="253.4" x2="504.2" y2="253.4" stroke="#444" stroke-width="0.81"/>
<text x="501.6" y="255.4" font-size="5.6" text-anchor="end" fill="#222" style="stroke:none">1200</text>
<line x1="502" y1="242.9" x2="504.2" y2="242.9" stroke="#444" stroke-width="0.81"/>
<text x="501.6" y="244.9" font-size="5.6" text-anchor="end" fill="#222" style="stroke:none">1400</text>
<line x1="502" y1="232.4" x2="504.2" y2="232.4" stroke="#444" stroke-width="0.81"/>
<text x="501.6" y="234.4" font-size="5.6" text-anchor="end" fill="#222" style="stroke:none">1600</text>
<line x1="502" y1="221.9" x2="504.2" y2="221.9" stroke="#444" stroke-width="0.81"/>
<text x="501.6" y="223.9" font-size="5.6" text-anchor="end" fill="#222" style="stroke:none">1800</text>
<line x1="502" y1="211.4" x2="504.2" y2="211.4" stroke="#444" stroke-width="0.81"/>
<text x="501.6" y="213.4" font-size="5.6" text-anchor="end" fill="#222" style="stroke:none">2000</text>
<line x1="502" y1="200.9" x2="504.2" y2="200.9" stroke="#444" stroke-width="0.81"/>
<text x="501.6" y="202.9" font-size="5.6" text-anchor="end" fill="#222" style="stroke:none">2200</text>
<line x1="504.2" y1="253.4" x2="539.3" y2="253.4" stroke="#555" stroke-width="1.2"/>
<text x="484.4" y="227.5" font-size="5.6" text-anchor="middle" fill="#000" transform="rotate(-90 484.4 225.5)" style="stroke:none">AUC</text>
<line x1="512.1" y1="199.9" x2="531.7" y2="199.9" stroke="#333" stroke-width="0.8"/>
<text x="521.2" y="200.41" font-size="5.6" text-anchor="middle" letter-spacing="0.4">***</text>
<line x1="508.6" y1="239.75" x2="515.6" y2="239.75" stroke="#4e9df2" stroke-width="0.84"/>
<line x1="512.1" y1="233.45" x2="512.1" y2="246.05" stroke="#4e9df2" stroke-width="0.7"/>
<line x1="509.6" y1="233.45" x2="514.6" y2="233.45" stroke="#4e9df2" stroke-width="0.7"/>
<line x1="509.6" y1="246.05" x2="514.6" y2="246.05" stroke="#4e9df2" stroke-width="0.7"/>
<circle cx="512.1" cy="229.78" r="1.1" fill="#4e9df2" stroke="none" stroke-width="1"/>
<circle cx="510.6" cy="234.5" r="1.1" fill="#4e9df2" stroke="none" stroke-width="1"/>
<circle cx="513.6" cy="241.85" r="1.1" fill="#4e9df2" stroke="none" stroke-width="1"/>
<circle cx="510.1" cy="244.47" r="1.1" fill="#4e9df2" stroke="none" stroke-width="1"/>
<circle cx="514.1" cy="245.53" r="1.1" fill="#4e9df2" stroke="none" stroke-width="1"/>
<circle cx="512.1" cy="246.05" r="1.1" fill="#4e9df2" stroke="none" stroke-width="1"/>
<line x1="528.2" y1="216.65" x2="535.2" y2="216.65" stroke="#ec3f3f" stroke-width="0.84"/>
<line x1="531.7" y1="207.2" x2="531.7" y2="227.15" stroke="#ec3f3f" stroke-width="0.7"/>
<line x1="529.2" y1="207.2" x2="534.2" y2="207.2" stroke="#ec3f3f" stroke-width="0.7"/>
<line x1="529.2" y1="227.15" x2="534.2" y2="227.15" stroke="#ec3f3f" stroke-width="0.7"/>
<circle cx="529.7" cy="204.05" r="1.1" fill="#ec3f3f" stroke="none" stroke-width="1"/>
<circle cx="533.7" cy="204.57" r="1.1" fill="#ec3f3f" stroke="none" stroke-width="1"/>
<circle cx="531.7" cy="206.15" r="1.1" fill="#ec3f3f" stroke="none" stroke-width="1"/>
<circle cx="532.7" cy="208.25" r="1.1" fill="#ec3f3f" stroke="none" stroke-width="1"/>
<circle cx="530.7" cy="211.4" r="1.1" fill="#ec3f3f" stroke="none" stroke-width="1"/>
<circle cx="533.7" cy="214.03" r="1.1" fill="#ec3f3f" stroke="none" stroke-width="1"/>
<circle cx="529.7" cy="215.6" r="1.1" fill="#ec3f3f" stroke="none" stroke-width="1"/>
<circle cx="531.7" cy="217.18" r="1.1" fill="#ec3f3f" stroke="none" stroke-width="1"/>
<circle cx="533.2" cy="219.28" r="1.1" fill="#ec3f3f" stroke="none" stroke-width="1"/>
<circle cx="530.2" cy="224.53" r="1.1" fill="#ec3f3f" stroke="none" stroke-width="1"/>
<circle cx="533.7" cy="225.58" r="1.1" fill="#ec3f3f" stroke="none" stroke-width="1"/>
<circle cx="529.7" cy="226.1" r="1.1" fill="#ec3f3f" stroke="none" stroke-width="1"/>
<circle cx="531.7" cy="229.78" r="1.1" fill="#ec3f3f" stroke="none" stroke-width="1"/>
<line x1="30.8" y1="388.8" x2="30.8" y2="512.95" stroke="#111" stroke-width="1.5"/>
<line x1="25.8" y1="512.2" x2="30.8" y2="512.2" stroke="#111" stroke-width="1.35"/>
<text x="22.8" y="515.06" font-size="8" text-anchor="end" fill="#111">0</text>
<line x1="25.8" y1="471.07" x2="30.8" y2="471.07" stroke="#111" stroke-width="1.35"/>
<text x="22.8" y="473.93" font-size="8" text-anchor="end" fill="#111">10</text>
<line x1="25.8" y1="429.93" x2="30.8" y2="429.93" stroke="#111" stroke-width="1.35"/>
<text x="22.8" y="432.8" font-size="8" text-anchor="end" fill="#111">20</text>
<line x1="25.8" y1="388.8" x2="30.8" y2="388.8" stroke="#111" stroke-width="1.35"/>
<text x="22.8" y="391.66" font-size="8" text-anchor="end" fill="#111">30</text>
<line x1="30.05" y1="512.2" x2="216.2" y2="512.2" stroke="#111" stroke-width="1.5"/>
<line x1="53.6" y1="512.2" x2="53.6" y2="516.7" stroke="#111" stroke-width="1.35"/>
<text x="53.6" y="525.56" font-size="8" text-anchor="middle" fill="#000">0</text>
<line x1="88" y1="512.2" x2="88" y2="516.7" stroke="#111" stroke-width="1.35"/>
<text x="88" y="525.56" font-size="8" text-anchor="middle" fill="#000">15</text>
<line x1="122.2" y1="512.2" x2="122.2" y2="516.7" stroke="#111" stroke-width="1.35"/>
<text x="122.2" y="525.56" font-size="8" text-anchor="middle" fill="#000">30</text>
<line x1="157.8" y1="512.2" x2="157.8" y2="516.7" stroke="#111" stroke-width="1.35"/>
<text x="157.8" y="525.56" font-size="8" text-anchor="middle" fill="#000">60</text>
<line x1="192.8" y1="512.2" x2="192.8" y2="516.7" stroke="#111" stroke-width="1.35"/>
<text x="192.8" y="525.56" font-size="8" text-anchor="middle" fill="#000">120</text>
<text x="123.6" y="539.63" font-size="7.9" text-anchor="middle" fill="#000">Time (min)</text>
<text x="5.2" y="447.3" font-size="8.1" text-anchor="middle" fill="#000" transform="rotate(-90 5.2 444.4)">Glucose level &#160;(mmol/L)</text>
<g opacity="0.8">
<line x1="53.6" y1="449.68" x2="53.6" y2="471.07" stroke="#f5c94a" stroke-width="1"/>
<line x1="51" y1="449.68" x2="56.2" y2="449.68" stroke="#f5c94a" stroke-width="1"/>
<line x1="51" y1="471.07" x2="56.2" y2="471.07" stroke="#f5c94a" stroke-width="1"/>
</g>
<g opacity="0.8">
<line x1="88" y1="398.67" x2="88" y2="426.64" stroke="#f5c94a" stroke-width="1"/>
<line x1="85.4" y1="398.67" x2="90.6" y2="398.67" stroke="#f5c94a" stroke-width="1"/>
<line x1="85.4" y1="426.64" x2="90.6" y2="426.64" stroke="#f5c94a" stroke-width="1"/>
</g>
<g opacity="0.8">
<line x1="122.2" y1="442.27" x2="122.2" y2="464.49" stroke="#f5c94a" stroke-width="1"/>
<line x1="119.6" y1="442.27" x2="124.8" y2="442.27" stroke="#f5c94a" stroke-width="1"/>
<line x1="119.6" y1="464.49" x2="124.8" y2="464.49" stroke="#f5c94a" stroke-width="1"/>
</g>
<g opacity="0.8">
<line x1="157.8" y1="441.45" x2="157.8" y2="462.02" stroke="#f5c94a" stroke-width="1"/>
<line x1="155.2" y1="441.45" x2="160.4" y2="441.45" stroke="#f5c94a" stroke-width="1"/>
<line x1="155.2" y1="462.02" x2="160.4" y2="462.02" stroke="#f5c94a" stroke-width="1"/>
</g>
<g opacity="0.8">
<line x1="192.8" y1="460.37" x2="192.8" y2="466.95" stroke="#f5c94a" stroke-width="1"/>
<line x1="190.2" y1="460.37" x2="195.4" y2="460.37" stroke="#f5c94a" stroke-width="1"/>
<line x1="190.2" y1="466.95" x2="195.4" y2="466.95" stroke="#f5c94a" stroke-width="1"/>
</g>
<path d="M53.6,460.37 L88,412.66 L122.2,453.38 L157.8,451.73 L192.8,463.66" fill="none" stroke="#f5c94a" stroke-width="1.6" stroke-linejoin="round"/>
<rect x="50.8" y="457.57" width="5.6" height="5.6" fill="#f5c94a" stroke="none" stroke-width="1"/>
<rect x="85.2" y="409.86" width="5.6" height="5.6" fill="#f5c94a" stroke="none" stroke-width="1"/>
<rect x="119.4" y="450.58" width="5.6" height="5.6" fill="#f5c94a" stroke="none" stroke-width="1"/>
<rect x="155" y="448.93" width="5.6" height="5.6" fill="#f5c94a" stroke="none" stroke-width="1"/>
<rect x="190" y="460.86" width="5.6" height="5.6" fill="#f5c94a" stroke="none" stroke-width="1"/>
<g opacity="0.8">
<line x1="53.6" y1="464.9" x2="53.6" y2="473.12" stroke="#dc4a10" stroke-width="1"/>
<line x1="51" y1="464.9" x2="56.2" y2="464.9" stroke="#dc4a10" stroke-width="1"/>
<line x1="51" y1="473.12" x2="56.2" y2="473.12" stroke="#dc4a10" stroke-width="1"/>
</g>
<g opacity="0.8">
<line x1="88" y1="409.37" x2="88" y2="438.98" stroke="#dc4a10" stroke-width="1"/>
<line x1="85.4" y1="409.37" x2="90.6" y2="409.37" stroke="#dc4a10" stroke-width="1"/>
<line x1="85.4" y1="438.98" x2="90.6" y2="438.98" stroke="#dc4a10" stroke-width="1"/>
</g>
<g opacity="0.8">
<line x1="122.2" y1="452.15" x2="122.2" y2="471.89" stroke="#dc4a10" stroke-width="1"/>
<line x1="119.6" y1="452.15" x2="124.8" y2="452.15" stroke="#dc4a10" stroke-width="1"/>
<line x1="119.6" y1="471.89" x2="124.8" y2="471.89" stroke="#dc4a10" stroke-width="1"/>
</g>
<g opacity="0.8">
<line x1="157.8" y1="455.85" x2="157.8" y2="468.19" stroke="#dc4a10" stroke-width="1"/>
<line x1="155.2" y1="455.85" x2="160.4" y2="455.85" stroke="#dc4a10" stroke-width="1"/>
<line x1="155.2" y1="468.19" x2="160.4" y2="468.19" stroke="#dc4a10" stroke-width="1"/>
</g>
<g opacity="0.8">
<line x1="192.8" y1="455.85" x2="192.8" y2="471.48" stroke="#dc4a10" stroke-width="1"/>
<line x1="190.2" y1="455.85" x2="195.4" y2="455.85" stroke="#dc4a10" stroke-width="1"/>
<line x1="190.2" y1="471.48" x2="195.4" y2="471.48" stroke="#dc4a10" stroke-width="1"/>
</g>
<path d="M53.6,469.01 L88,424.17 L122.2,462.02 L157.8,462.02 L192.8,463.66" fill="none" stroke="#dc4a10" stroke-width="1.6" stroke-linejoin="round"/>
<circle cx="53.6" cy="469.01" r="3" fill="#dc4a10" stroke="none" stroke-width="1"/>
<circle cx="88" cy="424.17" r="3" fill="#dc4a10" stroke="none" stroke-width="1"/>
<circle cx="122.2" cy="462.02" r="3" fill="#dc4a10" stroke="none" stroke-width="1"/>
<circle cx="157.8" cy="462.02" r="3" fill="#dc4a10" stroke="none" stroke-width="1"/>
<circle cx="192.8" cy="463.66" r="3" fill="#dc4a10" stroke="none" stroke-width="1"/>
<line x1="159.6" y1="390.8" x2="173.8" y2="390.8" stroke="#dc4a10" stroke-width="1.6"/>
<circle cx="166.7" cy="390.8" r="2.4" fill="#dc4a10" stroke="none" stroke-width="1"/>
<text x="180.9" y="393.31" font-size="7" text-anchor="start" fill="#000">RPL</text>
<line x1="159.6" y1="408.3" x2="173.8" y2="408.3" stroke="#f5c94a" stroke-width="1.6"/>
<rect x="164.2" y="405.8" width="5" height="5" fill="#f5c94a" stroke="none" stroke-width="1"/>
<text x="180.9" y="410.81" font-size="7" text-anchor="start" fill="#000">RPD</text>
<text x="147.2" y="429.51" font-size="7.3" text-anchor="start" fill="#000"><tspan font-style="italic">P</tspan>=0.062</text>
<line x1="87.9" y1="448.2" x2="87.9" y2="506.9" stroke="#555" stroke-width="1"/>
<line x1="85.3" y1="506.4" x2="87.9" y2="506.4" stroke="#555" stroke-width="0.9"/>
<text x="84.7" y="508.37" font-size="5.5" text-anchor="end" fill="#222" style="stroke:none">1400</text>
<line x1="85.3" y1="491.85" x2="87.9" y2="491.85" stroke="#555" stroke-width="0.9"/>
<text x="84.7" y="493.82" font-size="5.5" text-anchor="end" fill="#222" style="stroke:none">1600</text>
<line x1="85.3" y1="477.3" x2="87.9" y2="477.3" stroke="#555" stroke-width="0.9"/>
<text x="84.7" y="479.27" font-size="5.5" text-anchor="end" fill="#222" style="stroke:none">1800</text>
<line x1="85.3" y1="462.75" x2="87.9" y2="462.75" stroke="#555" stroke-width="0.9"/>
<text x="84.7" y="464.72" font-size="5.5" text-anchor="end" fill="#222" style="stroke:none">2000</text>
<line x1="85.3" y1="448.2" x2="87.9" y2="448.2" stroke="#555" stroke-width="0.9"/>
<text x="84.7" y="450.17" font-size="5.5" text-anchor="end" fill="#222" style="stroke:none">2200</text>
<line x1="87.9" y1="506.4" x2="120.4" y2="506.4" stroke="#555" stroke-width="1.2"/>
<text x="63.9" y="477.38" font-size="5.8" text-anchor="middle" fill="#000" transform="rotate(-90 63.9 475.3)" style="stroke:none">AUC</text>
<line x1="95.9" y1="453.3" x2="111.7" y2="453.3" stroke="#444" stroke-width="0.9"/>
<text x="103.8" y="453.32" font-size="6" text-anchor="middle" letter-spacing="0.4">**</text>
<line x1="91.7" y1="493.3" x2="100.1" y2="493.3" stroke="#dc4a10" stroke-width="1.08"/>
<line x1="95.9" y1="486.5" x2="95.9" y2="499.8" stroke="#dc4a10" stroke-width="0.9"/>
<line x1="93.7" y1="486.5" x2="98.1" y2="486.5" stroke="#dc4a10" stroke-width="0.9"/>
<line x1="93.7" y1="499.8" x2="98.1" y2="499.8" stroke="#dc4a10" stroke-width="0.9"/>
<circle cx="95.9" cy="483.4" r="1.25" fill="#dc4a10" stroke="none" stroke-width="1"/>
<circle cx="95.9" cy="486.8" r="1.25" fill="#dc4a10" stroke="none" stroke-width="1"/>
<circle cx="99.4" cy="494.2" r="1.25" fill="#dc4a10" stroke="none" stroke-width="1"/>
<circle cx="95.9" cy="493.6" r="1.25" fill="#dc4a10" stroke="none" stroke-width="1"/>
<circle cx="95.9" cy="497.7" r="1.25" fill="#dc4a10" stroke="none" stroke-width="1"/>
<circle cx="95.9" cy="501.8" r="1.25" fill="#dc4a10" stroke="none" stroke-width="1"/>
<line x1="108" y1="477.3" x2="116.4" y2="477.3" stroke="#f5c94a" stroke-width="1.08"/>
<line x1="112.2" y1="469.4" x2="112.2" y2="485" stroke="#f5c94a" stroke-width="0.9"/>
<line x1="110" y1="469.4" x2="114.4" y2="469.4" stroke="#f5c94a" stroke-width="0.9"/>
<line x1="110" y1="485" x2="114.4" y2="485" stroke="#f5c94a" stroke-width="0.9"/>
<rect x="111.05" y="463.05" width="2.3" height="2.3" fill="#f5c94a" stroke="none" stroke-width="1"/>
<rect x="114.15" y="473.75" width="2.3" height="2.3" fill="#f5c94a" stroke="none" stroke-width="1"/>
<rect x="111.05" y="475.35" width="2.3" height="2.3" fill="#f5c94a" stroke="none" stroke-width="1"/>
<rect x="111.05" y="477.85" width="2.3" height="2.3" fill="#f5c94a" stroke="none" stroke-width="1"/>
<rect x="111.05" y="480.85" width="2.3" height="2.3" fill="#f5c94a" stroke="none" stroke-width="1"/>
<rect x="111.05" y="485.85" width="2.3" height="2.3" fill="#f5c94a" stroke="none" stroke-width="1"/>
<line x1="265.2" y1="388.8" x2="265.2" y2="512.95" stroke="#111" stroke-width="1.5"/>
<line x1="260.2" y1="512.2" x2="265.2" y2="512.2" stroke="#111" stroke-width="1.35"/>
<text x="259.7" y="515.06" font-size="8" text-anchor="end" fill="#111">0</text>
<line x1="260.2" y1="471.07" x2="265.2" y2="471.07" stroke="#111" stroke-width="1.35"/>
<text x="259.7" y="473.93" font-size="8" text-anchor="end" fill="#111">10</text>
<line x1="260.2" y1="429.93" x2="265.2" y2="429.93" stroke="#111" stroke-width="1.35"/>
<text x="259.7" y="432.8" font-size="8" text-anchor="end" fill="#111">20</text>
<line x1="260.2" y1="388.8" x2="265.2" y2="388.8" stroke="#111" stroke-width="1.35"/>
<text x="259.7" y="391.66" font-size="8" text-anchor="end" fill="#111">30</text>
<line x1="264.45" y1="512.2" x2="451.2" y2="512.2" stroke="#111" stroke-width="1.5"/>
<line x1="288.3" y1="512.2" x2="288.3" y2="516.7" stroke="#111" stroke-width="1.35"/>
<text x="288.3" y="525.86" font-size="8" text-anchor="middle" fill="#000">0</text>
<line x1="322.8" y1="512.2" x2="322.8" y2="516.7" stroke="#111" stroke-width="1.35"/>
<text x="322.8" y="525.86" font-size="8" text-anchor="middle" fill="#000">15</text>
<line x1="357.4" y1="512.2" x2="357.4" y2="516.7" stroke="#111" stroke-width="1.35"/>
<text x="357.4" y="525.86" font-size="8" text-anchor="middle" fill="#000">30</text>
<line x1="392.8" y1="512.2" x2="392.8" y2="516.7" stroke="#111" stroke-width="1.35"/>
<text x="392.8" y="525.86" font-size="8" text-anchor="middle" fill="#000">60</text>
<line x1="427.3" y1="512.2" x2="427.3" y2="516.7" stroke="#111" stroke-width="1.35"/>
<text x="427.3" y="525.86" font-size="8" text-anchor="middle" fill="#000">120</text>
<text x="358.7" y="539.63" font-size="7.9" text-anchor="middle" fill="#000">Time (min)</text>
<text x="244.2" y="447.7" font-size="8.1" text-anchor="middle" fill="#000" transform="rotate(-90 244.2 444.8)">Glucose level &#160;(mmol/L)</text>
<g opacity="0.8">
<line x1="288.3" y1="460.78" x2="288.3" y2="473.12" stroke="#8a5ccf" stroke-width="1"/>
<line x1="285.7" y1="460.78" x2="290.9" y2="460.78" stroke="#8a5ccf" stroke-width="1"/>
<line x1="285.7" y1="473.12" x2="290.9" y2="473.12" stroke="#8a5ccf" stroke-width="1"/>
</g>
<g opacity="0.8">
<line x1="322.8" y1="411.42" x2="322.8" y2="433.64" stroke="#8a5ccf" stroke-width="1"/>
<line x1="320.2" y1="411.42" x2="325.4" y2="411.42" stroke="#8a5ccf" stroke-width="1"/>
<line x1="320.2" y1="433.64" x2="325.4" y2="433.64" stroke="#8a5ccf" stroke-width="1"/>
</g>
<g opacity="0.8">
<line x1="357.4" y1="429.93" x2="357.4" y2="457.9" stroke="#8a5ccf" stroke-width="1"/>
<line x1="354.8" y1="429.93" x2="360" y2="429.93" stroke="#8a5ccf" stroke-width="1"/>
<line x1="354.8" y1="457.9" x2="360" y2="457.9" stroke="#8a5ccf" stroke-width="1"/>
</g>
<g opacity="0.8">
<line x1="392.8" y1="432.81" x2="392.8" y2="459.96" stroke="#8a5ccf" stroke-width="1"/>
<line x1="390.2" y1="432.81" x2="395.4" y2="432.81" stroke="#8a5ccf" stroke-width="1"/>
<line x1="390.2" y1="459.96" x2="395.4" y2="459.96" stroke="#8a5ccf" stroke-width="1"/>
</g>
<g opacity="0.8">
<line x1="427.3" y1="451.32" x2="427.3" y2="463.66" stroke="#8a5ccf" stroke-width="1"/>
<line x1="424.7" y1="451.32" x2="429.9" y2="451.32" stroke="#8a5ccf" stroke-width="1"/>
<line x1="424.7" y1="463.66" x2="429.9" y2="463.66" stroke="#8a5ccf" stroke-width="1"/>
</g>
<path d="M288.3,466.95 L322.8,422.53 L357.4,443.92 L392.8,446.39 L427.3,457.49" fill="none" stroke="#8a5ccf" stroke-width="1.6" stroke-linejoin="round"/>
<path d="M288.3,469.92 L291.16,464.98 L285.44,464.98 Z" fill="#8a5ccf" stroke="none" stroke-width="1"/>
<path d="M322.8,425.49 L325.66,420.55 L319.94,420.55 Z" fill="#8a5ccf" stroke="none" stroke-width="1"/>
<path d="M357.4,446.88 L360.26,441.94 L354.54,441.94 Z" fill="#8a5ccf" stroke="none" stroke-width="1"/>
<path d="M392.8,449.35 L395.66,444.41 L389.94,444.41 Z" fill="#8a5ccf" stroke="none" stroke-width="1"/>
<path d="M427.3,460.46 L430.16,455.52 L424.44,455.52 Z" fill="#8a5ccf" stroke="none" stroke-width="1"/>
<g opacity="0.8">
<line x1="288.3" y1="467.78" x2="288.3" y2="477.65" stroke="#25c1a5" stroke-width="1"/>
<line x1="285.7" y1="467.78" x2="290.9" y2="467.78" stroke="#25c1a5" stroke-width="1"/>
<line x1="285.7" y1="477.65" x2="290.9" y2="477.65" stroke="#25c1a5" stroke-width="1"/>
</g>
<g opacity="0.8">
<line x1="322.8" y1="419.24" x2="322.8" y2="440.63" stroke="#25c1a5" stroke-width="1"/>
<line x1="320.2" y1="419.24" x2="325.4" y2="419.24" stroke="#25c1a5" stroke-width="1"/>
<line x1="320.2" y1="440.63" x2="325.4" y2="440.63" stroke="#25c1a5" stroke-width="1"/>
</g>
<g opacity="0.8">
<line x1="357.4" y1="445.15" x2="357.4" y2="472.3" stroke="#25c1a5" stroke-width="1"/>
<line x1="354.8" y1="445.15" x2="360" y2="445.15" stroke="#25c1a5" stroke-width="1"/>
<line x1="354.8" y1="472.3" x2="360" y2="472.3" stroke="#25c1a5" stroke-width="1"/>
</g>
<g opacity="0.8">
<line x1="392.8" y1="447.21" x2="392.8" y2="474.36" stroke="#25c1a5" stroke-width="1"/>
<line x1="390.2" y1="447.21" x2="395.4" y2="447.21" stroke="#25c1a5" stroke-width="1"/>
<line x1="390.2" y1="474.36" x2="395.4" y2="474.36" stroke="#25c1a5" stroke-width="1"/>
</g>
<g opacity="0.8">
<line x1="427.3" y1="461.61" x2="427.3" y2="472.3" stroke="#25c1a5" stroke-width="1"/>
<line x1="424.7" y1="461.61" x2="429.9" y2="461.61" stroke="#25c1a5" stroke-width="1"/>
<line x1="424.7" y1="472.3" x2="429.9" y2="472.3" stroke="#25c1a5" stroke-width="1"/>
</g>
<path d="M288.3,472.71 L322.8,429.93 L357.4,458.73 L392.8,460.78 L427.3,466.95" fill="none" stroke="#25c1a5" stroke-width="1.6" stroke-linejoin="round"/>
<path d="M288.3,469.75 L291.16,474.69 L285.44,474.69 Z" fill="#25c1a5" stroke="none" stroke-width="1"/>
<path d="M322.8,426.97 L325.66,431.91 L319.94,431.91 Z" fill="#25c1a5" stroke="none" stroke-width="1"/>
<path d="M357.4,455.76 L360.26,460.7 L354.54,460.7 Z" fill="#25c1a5" stroke="none" stroke-width="1"/>
<path d="M392.8,457.82 L395.66,462.76 L389.94,462.76 Z" fill="#25c1a5" stroke="none" stroke-width="1"/>
<path d="M427.3,463.99 L430.16,468.93 L424.44,468.93 Z" fill="#25c1a5" stroke="none" stroke-width="1"/>
<line x1="401" y1="391" x2="415" y2="391" stroke="#25c1a5" stroke-width="1.6"/>
<path d="M408,387.69 L411.19,393.2 L404.81,393.2 Z" fill="#25c1a5" stroke="none" stroke-width="1"/>
<text x="420.2" y="393.51" font-size="7" text-anchor="start" fill="#000">RML</text>
<line x1="401" y1="407.8" x2="415" y2="407.8" stroke="#8a5ccf" stroke-width="1.6"/>
<path d="M408,411.11 L411.19,405.6 L404.81,405.6 Z" fill="#8a5ccf" stroke="none" stroke-width="1"/>
<text x="420.2" y="410.31" font-size="7" text-anchor="start" fill="#000">RMD</text>
<text x="382.4" y="429.41" font-size="7.3" text-anchor="start" fill="#000"><tspan font-style="italic">P</tspan>=0.068</text>
<text x="427.9" y="448.98" font-size="9" text-anchor="middle" letter-spacing="0.4">*</text>
<line x1="326.4" y1="448.2" x2="326.4" y2="504.7" stroke="#777" stroke-width="1"/>
<line x1="323.8" y1="504.2" x2="326.4" y2="504.2" stroke="#777" stroke-width="0.9"/>
<text x="323.2" y="506.2" font-size="5.6" text-anchor="end" fill="#222" style="stroke:none">1000</text>
<line x1="323.8" y1="485.53" x2="326.4" y2="485.53" stroke="#777" stroke-width="0.9"/>
<text x="323.2" y="487.54" font-size="5.6" text-anchor="end" fill="#222" style="stroke:none">1500</text>
<line x1="323.8" y1="466.87" x2="326.4" y2="466.87" stroke="#777" stroke-width="0.9"/>
<text x="323.2" y="468.87" font-size="5.6" text-anchor="end" fill="#222" style="stroke:none">2000</text>
<line x1="323.8" y1="448.2" x2="326.4" y2="448.2" stroke="#777" stroke-width="0.9"/>
<text x="323.2" y="450.2" font-size="5.6" text-anchor="end" fill="#222" style="stroke:none">2500</text>
<line x1="326.4" y1="504.2" x2="358.9" y2="504.2" stroke="#888" stroke-width="1.4"/>
<text x="302.3" y="476.2" font-size="5.6" text-anchor="middle" fill="#000" transform="rotate(-90 302.3 474.2)" style="stroke:none">AUC</text>
<line x1="333.2" y1="451.7" x2="349.6" y2="451.7" stroke="#aaa" stroke-width="1.2"/>
<text x="341" y="451.52" font-size="6" text-anchor="middle" letter-spacing="0.4">*</text>
<line x1="329" y1="483.2" x2="337.8" y2="483.2" stroke="#25c1a5" stroke-width="1.08"/>
<line x1="333.4" y1="477.1" x2="333.4" y2="486.1" stroke="#25c1a5" stroke-width="0.9"/>
<line x1="331.2" y1="477.1" x2="335.6" y2="477.1" stroke="#25c1a5" stroke-width="0.9"/>
<line x1="331.2" y1="486.1" x2="335.6" y2="486.1" stroke="#25c1a5" stroke-width="0.9"/>
<path d="M333.8,474.77 L335.17,477.15 L332.42,477.15 Z" fill="#25c1a5" stroke="none" stroke-width="1"/>
<path d="M330.3,478.27 L331.67,480.65 L328.92,480.65 Z" fill="#25c1a5" stroke="none" stroke-width="1"/>
<path d="M333.4,485.27 L334.77,487.65 L332.02,487.65 Z" fill="#25c1a5" stroke="none" stroke-width="1"/>
<path d="M336.7,486.27 L338.07,488.65 L335.32,488.65 Z" fill="#25c1a5" stroke="none" stroke-width="1"/>
<path d="M330.3,488.18 L331.67,490.55 L328.92,490.55 Z" fill="#25c1a5" stroke="none" stroke-width="1"/>
<path d="M334.9,480.07 L336.27,482.45 L333.52,482.45 Z" fill="#25c1a5" stroke="none" stroke-width="1"/>
<line x1="345.1" y1="470.6" x2="353.5" y2="470.6" stroke="#8a5ccf" stroke-width="1.08"/>
<line x1="349.3" y1="461.4" x2="349.3" y2="478.5" stroke="#8a5ccf" stroke-width="0.9"/>
<line x1="347.1" y1="461.4" x2="351.5" y2="461.4" stroke="#8a5ccf" stroke-width="0.9"/>
<line x1="347.1" y1="478.5" x2="351.5" y2="478.5" stroke="#8a5ccf" stroke-width="0.9"/>
<path d="M349.3,454.82 L350.68,452.45 L347.93,452.45 Z" fill="#8a5ccf" stroke="none" stroke-width="1"/>
<path d="M349.3,467.73 L350.68,465.35 L347.93,465.35 Z" fill="#8a5ccf" stroke="none" stroke-width="1"/>
<path d="M346.1,472.03 L347.48,469.65 L344.73,469.65 Z" fill="#8a5ccf" stroke="none" stroke-width="1"/>
<path d="M349.6,474.73 L350.98,472.35 L348.23,472.35 Z" fill="#8a5ccf" stroke="none" stroke-width="1"/>
<path d="M346.6,479.43 L347.98,477.05 L345.23,477.05 Z" fill="#8a5ccf" stroke="none" stroke-width="1"/>
<path d="M352.5,479.43 L353.88,477.05 L351.12,477.05 Z" fill="#8a5ccf" stroke="none" stroke-width="1"/>
<line x1="496.6" y1="386.9" x2="496.6" y2="511.95" stroke="#111" stroke-width="1.5"/>
<line x1="491.6" y1="511.2" x2="496.6" y2="511.2" stroke="#111" stroke-width="1.35"/>
<text x="491.1" y="514.06" font-size="8" text-anchor="end" fill="#111">0</text>
<line x1="491.6" y1="469.77" x2="496.6" y2="469.77" stroke="#111" stroke-width="1.35"/>
<text x="491.1" y="472.63" font-size="8" text-anchor="end" fill="#111">10</text>
<line x1="491.6" y1="428.33" x2="496.6" y2="428.33" stroke="#111" stroke-width="1.35"/>
<text x="491.1" y="431.2" font-size="8" text-anchor="end" fill="#111">20</text>
<line x1="491.6" y1="386.9" x2="496.6" y2="386.9" stroke="#111" stroke-width="1.35"/>
<text x="491.1" y="389.76" font-size="8" text-anchor="end" fill="#111">30</text>
<line x1="495.85" y1="511.2" x2="682.1" y2="511.2" stroke="#111" stroke-width="1.5"/>
<line x1="520" y1="511.2" x2="520" y2="515.7" stroke="#111" stroke-width="1.35"/>
<text x="520" y="525.06" font-size="8" text-anchor="middle" fill="#000">0</text>
<line x1="554.5" y1="511.2" x2="554.5" y2="515.7" stroke="#111" stroke-width="1.35"/>
<text x="554.5" y="525.06" font-size="8" text-anchor="middle" fill="#000">15</text>
<line x1="587.8" y1="511.2" x2="587.8" y2="515.7" stroke="#111" stroke-width="1.35"/>
<text x="587.8" y="525.06" font-size="8" text-anchor="middle" fill="#000">30</text>
<line x1="623.7" y1="511.2" x2="623.7" y2="515.7" stroke="#111" stroke-width="1.35"/>
<text x="623.7" y="525.06" font-size="8" text-anchor="middle" fill="#000">60</text>
<line x1="658.7" y1="511.2" x2="658.7" y2="515.7" stroke="#111" stroke-width="1.35"/>
<text x="658.7" y="525.06" font-size="8" text-anchor="middle" fill="#000">120</text>
<text x="589.5" y="538.13" font-size="7.9" text-anchor="middle" fill="#000">Time (min)</text>
<text x="475.5" y="447.3" font-size="8.1" text-anchor="middle" fill="#000" transform="rotate(-90 475.5 444.4)">Glucose level &#160;(mmol/L)</text>
<g opacity="0.8">
<line x1="520" y1="466.04" x2="520" y2="476.81" stroke="#25c1a5" stroke-width="1"/>
<line x1="517.4" y1="466.04" x2="522.6" y2="466.04" stroke="#25c1a5" stroke-width="1"/>
<line x1="517.4" y1="476.81" x2="522.6" y2="476.81" stroke="#25c1a5" stroke-width="1"/>
</g>
<g opacity="0.8">
<line x1="554.5" y1="416.32" x2="554.5" y2="437.86" stroke="#25c1a5" stroke-width="1"/>
<line x1="551.9" y1="416.32" x2="557.1" y2="416.32" stroke="#25c1a5" stroke-width="1"/>
<line x1="551.9" y1="437.86" x2="557.1" y2="437.86" stroke="#25c1a5" stroke-width="1"/>
</g>
<g opacity="0.8">
<line x1="587.8" y1="443.25" x2="587.8" y2="469.77" stroke="#25c1a5" stroke-width="1"/>
<line x1="585.2" y1="443.25" x2="590.4" y2="443.25" stroke="#25c1a5" stroke-width="1"/>
<line x1="585.2" y1="469.77" x2="590.4" y2="469.77" stroke="#25c1a5" stroke-width="1"/>
</g>
<g opacity="0.8">
<line x1="623.7" y1="446.98" x2="623.7" y2="470.18" stroke="#25c1a5" stroke-width="1"/>
<line x1="621.1" y1="446.98" x2="626.3" y2="446.98" stroke="#25c1a5" stroke-width="1"/>
<line x1="621.1" y1="470.18" x2="626.3" y2="470.18" stroke="#25c1a5" stroke-width="1"/>
</g>
<g opacity="0.8">
<line x1="658.7" y1="459.82" x2="658.7" y2="470.6" stroke="#25c1a5" stroke-width="1"/>
<line x1="656.1" y1="459.82" x2="661.3" y2="459.82" stroke="#25c1a5" stroke-width="1"/>
<line x1="656.1" y1="470.6" x2="661.3" y2="470.6" stroke="#25c1a5" stroke-width="1"/>
</g>
<path d="M520,471.42 L554.5,427.09 L587.8,456.51 L623.7,458.58 L658.7,465.21" fill="none" stroke="#25c1a5" stroke-width="1.6" stroke-linejoin="round"/>
<path d="M520,468.46 L522.86,473.4 L517.14,473.4 Z" fill="#25c1a5" stroke="none" stroke-width="1"/>
<path d="M554.5,424.13 L557.36,429.07 L551.64,429.07 Z" fill="#25c1a5" stroke="none" stroke-width="1"/>
<path d="M587.8,453.54 L590.66,458.48 L584.94,458.48 Z" fill="#25c1a5" stroke="none" stroke-width="1"/>
<path d="M623.7,455.62 L626.56,460.56 L620.84,460.56 Z" fill="#25c1a5" stroke="none" stroke-width="1"/>
<path d="M658.7,462.25 L661.56,467.19 L655.84,467.19 Z" fill="#25c1a5" stroke="none" stroke-width="1"/>
<g opacity="0.8">
<line x1="520" y1="462.31" x2="520" y2="472.25" stroke="#dc4a10" stroke-width="1"/>
<line x1="517.4" y1="462.31" x2="522.6" y2="462.31" stroke="#dc4a10" stroke-width="1"/>
<line x1="517.4" y1="472.25" x2="522.6" y2="472.25" stroke="#dc4a10" stroke-width="1"/>
</g>
<g opacity="0.8">
<line x1="554.5" y1="407.2" x2="554.5" y2="437.03" stroke="#dc4a10" stroke-width="1"/>
<line x1="551.9" y1="407.2" x2="557.1" y2="407.2" stroke="#dc4a10" stroke-width="1"/>
<line x1="551.9" y1="437.03" x2="557.1" y2="437.03" stroke="#dc4a10" stroke-width="1"/>
</g>
<g opacity="0.8">
<line x1="587.8" y1="449.46" x2="587.8" y2="471.01" stroke="#dc4a10" stroke-width="1"/>
<line x1="585.2" y1="449.46" x2="590.4" y2="449.46" stroke="#dc4a10" stroke-width="1"/>
<line x1="585.2" y1="471.01" x2="590.4" y2="471.01" stroke="#dc4a10" stroke-width="1"/>
</g>
<g opacity="0.8">
<line x1="623.7" y1="454.02" x2="623.7" y2="466.45" stroke="#dc4a10" stroke-width="1"/>
<line x1="621.1" y1="454.02" x2="626.3" y2="454.02" stroke="#dc4a10" stroke-width="1"/>
<line x1="621.1" y1="466.45" x2="626.3" y2="466.45" stroke="#dc4a10" stroke-width="1"/>
</g>
<g opacity="0.8">
<line x1="658.7" y1="454.44" x2="658.7" y2="468.52" stroke="#dc4a10" stroke-width="1"/>
<line x1="656.1" y1="454.44" x2="661.3" y2="454.44" stroke="#dc4a10" stroke-width="1"/>
<line x1="656.1" y1="468.52" x2="661.3" y2="468.52" stroke="#dc4a10" stroke-width="1"/>
</g>
<path d="M520,467.28 L554.5,422.12 L587.8,460.24 L623.7,460.24 L658.7,461.48" fill="none" stroke="#dc4a10" stroke-width="1.6" stroke-linejoin="round"/>
<circle cx="520" cy="467.28" r="3" fill="#dc4a10" stroke="none" stroke-width="1"/>
<circle cx="554.5" cy="422.12" r="3" fill="#dc4a10" stroke="none" stroke-width="1"/>
<circle cx="587.8" cy="460.24" r="3" fill="#dc4a10" stroke="none" stroke-width="1"/>
<circle cx="623.7" cy="460.24" r="3" fill="#dc4a10" stroke="none" stroke-width="1"/>
<circle cx="658.7" cy="461.48" r="3" fill="#dc4a10" stroke="none" stroke-width="1"/>
<line x1="634" y1="390.3" x2="646.5" y2="390.3" stroke="#dc4a10" stroke-width="1.6"/>
<circle cx="640.25" cy="390.3" r="2.4" fill="#dc4a10" stroke="none" stroke-width="1"/>
<text x="653.5" y="392.81" font-size="7" text-anchor="start" fill="#000">RPL</text>
<line x1="634" y1="407.8" x2="646.5" y2="407.8" stroke="#25c1a5" stroke-width="1.6"/>
<path d="M640.25,404.49 L643.44,410 L637.06,410 Z" fill="#25c1a5" stroke="none" stroke-width="1"/>
<text x="653.5" y="410.31" font-size="7" text-anchor="start" fill="#000">RML</text>
<line x1="555.7" y1="449" x2="555.7" y2="502.85" stroke="#999" stroke-width="1.5"/>
<line x1="553.1" y1="502.1" x2="555.7" y2="502.1" stroke="#999" stroke-width="1.35"/>
<text x="552.5" y="503.96" font-size="5.2" text-anchor="end" fill="#222" style="stroke:none">1300</text>
<line x1="553.1" y1="491.48" x2="555.7" y2="491.48" stroke="#999" stroke-width="1.35"/>
<text x="552.5" y="493.34" font-size="5.2" text-anchor="end" fill="#222" style="stroke:none">1400</text>
<line x1="553.1" y1="480.86" x2="555.7" y2="480.86" stroke="#999" stroke-width="1.35"/>
<text x="552.5" y="482.72" font-size="5.2" text-anchor="end" fill="#222" style="stroke:none">1500</text>
<line x1="553.1" y1="470.24" x2="555.7" y2="470.24" stroke="#999" stroke-width="1.35"/>
<text x="552.5" y="472.1" font-size="5.2" text-anchor="end" fill="#222" style="stroke:none">1600</text>
<line x1="553.1" y1="459.62" x2="555.7" y2="459.62" stroke="#999" stroke-width="1.35"/>
<text x="552.5" y="461.48" font-size="5.2" text-anchor="end" fill="#222" style="stroke:none">1700</text>
<line x1="553.1" y1="449" x2="555.7" y2="449" stroke="#999" stroke-width="1.35"/>
<text x="552.5" y="450.86" font-size="5.2" text-anchor="end" fill="#222" style="stroke:none">1800</text>
<line x1="555.7" y1="502.1" x2="587.8" y2="502.1" stroke="#333" stroke-width="1"/>
<text x="532.7" y="475.7" font-size="5.6" text-anchor="middle" fill="#000" transform="rotate(-90 532.7 473.7)" style="stroke:none">AUC</text>
<line x1="558.4" y1="472.2" x2="566.8" y2="472.2" stroke="#dc4a10" stroke-width="1.08"/>
<line x1="562.6" y1="462.3" x2="562.6" y2="481.9" stroke="#dc4a10" stroke-width="0.9"/>
<line x1="560.4" y1="462.3" x2="564.8" y2="462.3" stroke="#dc4a10" stroke-width="0.9"/>
<line x1="560.4" y1="481.9" x2="564.8" y2="481.9" stroke="#dc4a10" stroke-width="0.9"/>
<circle cx="562.6" cy="458.2" r="1.25" fill="#dc4a10" stroke="none" stroke-width="1"/>
<circle cx="562.6" cy="463" r="1.25" fill="#dc4a10" stroke="none" stroke-width="1"/>
<circle cx="565.7" cy="473.5" r="1.25" fill="#dc4a10" stroke="none" stroke-width="1"/>
<circle cx="562.6" cy="474.7" r="1.25" fill="#dc4a10" stroke="none" stroke-width="1"/>
<circle cx="562.6" cy="478.3" r="1.25" fill="#dc4a10" stroke="none" stroke-width="1"/>
<circle cx="562.6" cy="485" r="1.25" fill="#dc4a10" stroke="none" stroke-width="1"/>
<line x1="573.1" y1="473.2" x2="581.5" y2="473.2" stroke="#25c1a5" stroke-width="1.08"/>
<line x1="577.3" y1="457.6" x2="577.3" y2="488.2" stroke="#25c1a5" stroke-width="0.9"/>
<line x1="575.1" y1="457.6" x2="579.5" y2="457.6" stroke="#25c1a5" stroke-width="0.9"/>
<line x1="575.1" y1="488.2" x2="579.5" y2="488.2" stroke="#25c1a5" stroke-width="0.9"/>
<path d="M577.3,451.88 L578.67,454.25 L575.92,454.25 Z" fill="#25c1a5" stroke="none" stroke-width="1"/>
<path d="M574.8,460.87 L576.17,463.25 L573.42,463.25 Z" fill="#25c1a5" stroke="none" stroke-width="1"/>
<path d="M577.3,463.07 L578.67,465.45 L575.92,465.45 Z" fill="#25c1a5" stroke="none" stroke-width="1"/>
<path d="M577.3,480.47 L578.67,482.85 L575.92,482.85 Z" fill="#25c1a5" stroke="none" stroke-width="1"/>
<path d="M577.3,484.57 L578.67,486.95 L575.92,486.95 Z" fill="#25c1a5" stroke="none" stroke-width="1"/>
<path d="M577.3,490.68 L578.67,493.05 L575.92,493.05 Z" fill="#25c1a5" stroke="none" stroke-width="1"/>
<text x="13" y="361.57" font-size="8.3" text-anchor="middle" fill="#000">B</text>
<text x="13.3" y="562.97" font-size="8.3" text-anchor="middle" fill="#000">C</text>
<text x="374.8" y="565.37" font-size="8.3" text-anchor="middle" fill="#000">D</text>
<line x1="28" y1="600.6" x2="28" y2="731.85" stroke="#111" stroke-width="1.5"/>
<line x1="23" y1="731.1" x2="28" y2="731.1" stroke="#111" stroke-width="1.35"/>
<text x="21.2" y="733.96" font-size="8" text-anchor="end" fill="#111">25</text>
<line x1="23" y1="698.48" x2="28" y2="698.48" stroke="#111" stroke-width="1.35"/>
<text x="21.2" y="701.34" font-size="8" text-anchor="end" fill="#111">30</text>
<line x1="23" y1="665.85" x2="28" y2="665.85" stroke="#111" stroke-width="1.35"/>
<text x="21.2" y="668.71" font-size="8" text-anchor="end" fill="#111">35</text>
<line x1="23" y1="633.23" x2="28" y2="633.23" stroke="#111" stroke-width="1.35"/>
<text x="21.2" y="636.09" font-size="8" text-anchor="end" fill="#111">40</text>
<line x1="23" y1="600.6" x2="28" y2="600.6" stroke="#111" stroke-width="1.35"/>
<text x="21.2" y="603.46" font-size="8" text-anchor="end" fill="#111">45</text>
<line x1="27.25" y1="731.1" x2="224.2" y2="731.1" stroke="#111" stroke-width="1.5"/>
<line x1="52.6" y1="731.1" x2="52.6" y2="735.6" stroke="#111" stroke-width="1.35"/>
<text x="52.6" y="745.16" font-size="8" text-anchor="middle" fill="#000">pre-FMT</text>
<line x1="89.4" y1="731.1" x2="89.4" y2="735.6" stroke="#111" stroke-width="1.35"/>
<text x="89.4" y="745.16" font-size="8" text-anchor="middle" fill="#000">FMT-1</text>
<line x1="126.2" y1="731.1" x2="126.2" y2="735.6" stroke="#111" stroke-width="1.35"/>
<text x="126.2" y="745.16" font-size="8" text-anchor="middle" fill="#000">FMT-2</text>
<line x1="163" y1="731.1" x2="163" y2="735.6" stroke="#111" stroke-width="1.35"/>
<text x="163" y="745.16" font-size="8" text-anchor="middle" fill="#000">FMT-3</text>
<line x1="199.8" y1="731.1" x2="199.8" y2="735.6" stroke="#111" stroke-width="1.35"/>
<text x="199.8" y="745.16" font-size="8" text-anchor="middle" fill="#000">FMT-4</text>
<text x="122.6" y="757.87" font-size="8.3" text-anchor="middle" fill="#000">Study week</text>
<text x="3.8" y="665.2" font-size="8.1" text-anchor="middle" fill="#000" transform="rotate(-90 3.8 662.3)">Weight (g)</text>
<g opacity="0.75">
<line x1="52.6" y1="653.45" x2="52.6" y2="712.83" stroke="#8a5ccf" stroke-width="1"/>
<line x1="50" y1="653.45" x2="55.2" y2="653.45" stroke="#8a5ccf" stroke-width="1"/>
<line x1="50" y1="712.83" x2="55.2" y2="712.83" stroke="#8a5ccf" stroke-width="1"/>
</g>
<g opacity="0.75">
<line x1="89.4" y1="654.11" x2="89.4" y2="701.74" stroke="#8a5ccf" stroke-width="1"/>
<line x1="86.8" y1="654.11" x2="92" y2="654.11" stroke="#8a5ccf" stroke-width="1"/>
<line x1="86.8" y1="701.74" x2="92" y2="701.74" stroke="#8a5ccf" stroke-width="1"/>
</g>
<g opacity="0.75">
<line x1="126.2" y1="667.81" x2="126.2" y2="705.65" stroke="#8a5ccf" stroke-width="1"/>
<line x1="123.6" y1="667.81" x2="128.8" y2="667.81" stroke="#8a5ccf" stroke-width="1"/>
<line x1="123.6" y1="705.65" x2="128.8" y2="705.65" stroke="#8a5ccf" stroke-width="1"/>
</g>
<g opacity="0.75">
<line x1="163" y1="649.54" x2="163" y2="692.6" stroke="#8a5ccf" stroke-width="1"/>
<line x1="160.4" y1="649.54" x2="165.6" y2="649.54" stroke="#8a5ccf" stroke-width="1"/>
<line x1="160.4" y1="692.6" x2="165.6" y2="692.6" stroke="#8a5ccf" stroke-width="1"/>
</g>
<g opacity="0.75">
<line x1="199.8" y1="637.79" x2="199.8" y2="685.43" stroke="#8a5ccf" stroke-width="1"/>
<line x1="197.2" y1="637.79" x2="202.4" y2="637.79" stroke="#8a5ccf" stroke-width="1"/>
<line x1="197.2" y1="685.43" x2="202.4" y2="685.43" stroke="#8a5ccf" stroke-width="1"/>
</g>
<g opacity="0.75">
<line x1="52.6" y1="656.06" x2="52.6" y2="708.26" stroke="#25c1a5" stroke-width="1"/>
<line x1="50" y1="656.06" x2="55.2" y2="656.06" stroke="#25c1a5" stroke-width="1"/>
<line x1="50" y1="708.26" x2="55.2" y2="708.26" stroke="#25c1a5" stroke-width="1"/>
</g>
<g opacity="0.75">
<line x1="89.4" y1="646.27" x2="89.4" y2="701.74" stroke="#25c1a5" stroke-width="1"/>
<line x1="86.8" y1="646.27" x2="92" y2="646.27" stroke="#25c1a5" stroke-width="1"/>
<line x1="86.8" y1="701.74" x2="92" y2="701.74" stroke="#25c1a5" stroke-width="1"/>
</g>
<g opacity="0.75">
<line x1="126.2" y1="665.2" x2="126.2" y2="705" stroke="#25c1a5" stroke-width="1"/>
<line x1="123.6" y1="665.2" x2="128.8" y2="665.2" stroke="#25c1a5" stroke-width="1"/>
<line x1="123.6" y1="705" x2="128.8" y2="705" stroke="#25c1a5" stroke-width="1"/>
</g>
<g opacity="0.75">
<line x1="163" y1="650.84" x2="163" y2="697.82" stroke="#25c1a5" stroke-width="1"/>
<line x1="160.4" y1="650.84" x2="165.6" y2="650.84" stroke="#25c1a5" stroke-width="1"/>
<line x1="160.4" y1="697.82" x2="165.6" y2="697.82" stroke="#25c1a5" stroke-width="1"/>
</g>
<g opacity="0.75">
<line x1="199.8" y1="643.67" x2="199.8" y2="693.25" stroke="#25c1a5" stroke-width="1"/>
<line x1="197.2" y1="643.67" x2="202.4" y2="643.67" stroke="#25c1a5" stroke-width="1"/>
<line x1="197.2" y1="693.25" x2="202.4" y2="693.25" stroke="#25c1a5" stroke-width="1"/>
</g>
<g opacity="0.75">
<line x1="52.6" y1="662.59" x2="52.6" y2="701.74" stroke="#f5c94a" stroke-width="1"/>
<line x1="50" y1="662.59" x2="55.2" y2="662.59" stroke="#f5c94a" stroke-width="1"/>
<line x1="50" y1="701.74" x2="55.2" y2="701.74" stroke="#f5c94a" stroke-width="1"/>
</g>
<g opacity="0.75">
<line x1="89.4" y1="659.98" x2="89.4" y2="694.56" stroke="#f5c94a" stroke-width="1"/>
<line x1="86.8" y1="659.98" x2="92" y2="659.98" stroke="#f5c94a" stroke-width="1"/>
<line x1="86.8" y1="694.56" x2="92" y2="694.56" stroke="#f5c94a" stroke-width="1"/>
</g>
<g opacity="0.75">
<line x1="126.2" y1="665.85" x2="126.2" y2="703.7" stroke="#f5c94a" stroke-width="1"/>
<line x1="123.6" y1="665.85" x2="128.8" y2="665.85" stroke="#f5c94a" stroke-width="1"/>
<line x1="123.6" y1="703.7" x2="128.8" y2="703.7" stroke="#f5c94a" stroke-width="1"/>
</g>
<g opacity="0.75">
<line x1="163" y1="648.23" x2="163" y2="695.21" stroke="#f5c94a" stroke-width="1"/>
<line x1="160.4" y1="648.23" x2="165.6" y2="648.23" stroke="#f5c94a" stroke-width="1"/>
<line x1="160.4" y1="695.21" x2="165.6" y2="695.21" stroke="#f5c94a" stroke-width="1"/>
</g>
<g opacity="0.75">
<line x1="199.8" y1="642.36" x2="199.8" y2="689.99" stroke="#f5c94a" stroke-width="1"/>
<line x1="197.2" y1="642.36" x2="202.4" y2="642.36" stroke="#f5c94a" stroke-width="1"/>
<line x1="197.2" y1="689.99" x2="202.4" y2="689.99" stroke="#f5c94a" stroke-width="1"/>
</g>
<g opacity="0.85">
<line x1="52.6" y1="644.32" x2="52.6" y2="718.05" stroke="#e6703c" stroke-width="1.1"/>
<line x1="50" y1="644.32" x2="55.2" y2="644.32" stroke="#e6703c" stroke-width="1.1"/>
<line x1="50" y1="718.05" x2="55.2" y2="718.05" stroke="#e6703c" stroke-width="1.1"/>
</g>
<g opacity="0.85">
<line x1="89.4" y1="639.1" x2="89.4" y2="708.26" stroke="#e6703c" stroke-width="1.1"/>
<line x1="86.8" y1="639.1" x2="92" y2="639.1" stroke="#e6703c" stroke-width="1.1"/>
<line x1="86.8" y1="708.26" x2="92" y2="708.26" stroke="#e6703c" stroke-width="1.1"/>
</g>
<g opacity="0.85">
<line x1="126.2" y1="650.19" x2="126.2" y2="716.09" stroke="#e6703c" stroke-width="1.1"/>
<line x1="123.6" y1="650.19" x2="128.8" y2="650.19" stroke="#e6703c" stroke-width="1.1"/>
<line x1="123.6" y1="716.09" x2="128.8" y2="716.09" stroke="#e6703c" stroke-width="1.1"/>
</g>
<g opacity="0.85">
<line x1="163" y1="633.23" x2="163" y2="709.57" stroke="#e6703c" stroke-width="1.1"/>
<line x1="160.4" y1="633.23" x2="165.6" y2="633.23" stroke="#e6703c" stroke-width="1.1"/>
<line x1="160.4" y1="709.57" x2="165.6" y2="709.57" stroke="#e6703c" stroke-width="1.1"/>
</g>
<g opacity="0.85">
<line x1="199.8" y1="624.74" x2="199.8" y2="704.35" stroke="#e6703c" stroke-width="1.1"/>
<line x1="197.2" y1="624.74" x2="202.4" y2="624.74" stroke="#e6703c" stroke-width="1.1"/>
<line x1="197.2" y1="704.35" x2="202.4" y2="704.35" stroke="#e6703c" stroke-width="1.1"/>
</g>
<path d="M52.6,682.82 L89.4,678.25 L126.2,687.38 L163,671.07 L199.8,661.94" fill="none" stroke="#8a5ccf" stroke-width="1.5" stroke-linejoin="round"/>
<path d="M52.6,685.32 L55.02,681.14 L50.18,681.14 Z" fill="#8a5ccf" stroke="none" stroke-width="1"/>
<path d="M89.4,680.76 L91.82,676.58 L86.98,676.58 Z" fill="#8a5ccf" stroke="none" stroke-width="1"/>
<path d="M126.2,689.89 L128.62,685.71 L123.78,685.71 Z" fill="#8a5ccf" stroke="none" stroke-width="1"/>
<path d="M163,673.58 L165.42,669.4 L160.58,669.4 Z" fill="#8a5ccf" stroke="none" stroke-width="1"/>
<path d="M199.8,664.44 L202.22,660.26 L197.38,660.26 Z" fill="#8a5ccf" stroke="none" stroke-width="1"/>
<path d="M52.6,682.16 L89.4,676.94 L126.2,686.08 L163,674.99 L199.8,668.46" fill="none" stroke="#25c1a5" stroke-width="1.5" stroke-linejoin="round"/>
<path d="M52.6,679.65 L55.02,683.83 L50.18,683.83 Z" fill="#25c1a5" stroke="none" stroke-width="1"/>
<path d="M89.4,674.43 L91.82,678.61 L86.98,678.61 Z" fill="#25c1a5" stroke="none" stroke-width="1"/>
<path d="M126.2,683.57 L128.62,687.75 L123.78,687.75 Z" fill="#25c1a5" stroke="none" stroke-width="1"/>
<path d="M163,672.48 L165.42,676.66 L160.58,676.66 Z" fill="#25c1a5" stroke="none" stroke-width="1"/>
<path d="M199.8,665.95 L202.22,670.13 L197.38,670.13 Z" fill="#25c1a5" stroke="none" stroke-width="1"/>
<path d="M52.6,682.82 L89.4,677.6 L126.2,685.43 L163,672.38 L199.8,663.24" fill="none" stroke="#f5c94a" stroke-width="1.5" stroke-linejoin="round"/>
<rect x="50" y="680.22" width="5.2" height="5.2" fill="#f5c94a" stroke="none" stroke-width="1"/>
<rect x="86.8" y="675" width="5.2" height="5.2" fill="#f5c94a" stroke="none" stroke-width="1"/>
<rect x="123.6" y="682.83" width="5.2" height="5.2" fill="#f5c94a" stroke="none" stroke-width="1"/>
<rect x="160.4" y="669.77" width="5.2" height="5.2" fill="#f5c94a" stroke="none" stroke-width="1"/>
<rect x="197.2" y="660.64" width="5.2" height="5.2" fill="#f5c94a" stroke="none" stroke-width="1"/>
<path d="M52.6,682.16 L89.4,674.33 L126.2,684.12 L163,671.72 L199.8,663.89" fill="none" stroke="#dc4a10" stroke-width="1.8" stroke-linejoin="round"/>
<circle cx="52.6" cy="682.16" r="1" fill="#dc4a10" stroke="none" stroke-width="1"/>
<circle cx="89.4" cy="674.33" r="1" fill="#dc4a10" stroke="none" stroke-width="1"/>
<circle cx="126.2" cy="684.12" r="1" fill="#dc4a10" stroke="none" stroke-width="1"/>
<circle cx="163" cy="671.72" r="1" fill="#dc4a10" stroke="none" stroke-width="1"/>
<circle cx="199.8" cy="663.89" r="1" fill="#dc4a10" stroke="none" stroke-width="1"/>
<line x1="261.3" y1="600.2" x2="261.3" y2="730.45" stroke="#111" stroke-width="1.5"/>
<line x1="256.3" y1="729.7" x2="261.3" y2="729.7" stroke="#111" stroke-width="1.35"/>
<text x="254.7" y="732.56" font-size="8" text-anchor="end" fill="#111">-2</text>
<line x1="256.3" y1="703.8" x2="261.3" y2="703.8" stroke="#111" stroke-width="1.35"/>
<text x="254.7" y="706.66" font-size="8" text-anchor="end" fill="#111">0</text>
<line x1="256.3" y1="677.9" x2="261.3" y2="677.9" stroke="#111" stroke-width="1.35"/>
<text x="254.7" y="680.76" font-size="8" text-anchor="end" fill="#111">2</text>
<line x1="256.3" y1="652" x2="261.3" y2="652" stroke="#111" stroke-width="1.35"/>
<text x="254.7" y="654.86" font-size="8" text-anchor="end" fill="#111">4</text>
<line x1="256.3" y1="626.1" x2="261.3" y2="626.1" stroke="#111" stroke-width="1.35"/>
<text x="254.7" y="628.96" font-size="8" text-anchor="end" fill="#111">6</text>
<line x1="256.3" y1="600.2" x2="261.3" y2="600.2" stroke="#111" stroke-width="1.35"/>
<text x="254.7" y="603.06" font-size="8" text-anchor="end" fill="#111">8</text>
<line x1="260.55" y1="729.7" x2="348" y2="729.7" stroke="#111" stroke-width="1.5"/>
<line x1="269.9" y1="729.7" x2="269.9" y2="734.2" stroke="#111" stroke-width="1.35"/>
<text x="269.9" y="744.96" font-size="8" text-anchor="middle" fill="#000">RPL</text>
<line x1="292.5" y1="729.7" x2="292.5" y2="734.2" stroke="#111" stroke-width="1.35"/>
<text x="292.5" y="744.96" font-size="8" text-anchor="middle" fill="#000">RPD</text>
<line x1="315.3" y1="729.7" x2="315.3" y2="734.2" stroke="#111" stroke-width="1.35"/>
<text x="315.3" y="744.96" font-size="8" text-anchor="middle" fill="#000">RML</text>
<line x1="338.1" y1="729.7" x2="338.1" y2="734.2" stroke="#111" stroke-width="1.35"/>
<text x="338.1" y="744.96" font-size="8" text-anchor="middle" fill="#000">RMD</text>
<text x="238.1" y="665.47" font-size="8.3" text-anchor="middle" fill="#000" transform="rotate(-90 238.1 662.5)">Weight gain (g)</text>
<line x1="262" y1="704.2" x2="348" y2="704.2" stroke="#111" stroke-width="1.25" stroke-dasharray="1.8,2.15"/>
<line x1="265.6" y1="670.13" x2="274.2" y2="670.13" stroke="#dc4a10" stroke-width="1.2"/>
<line x1="269.9" y1="649.41" x2="269.9" y2="690.2" stroke="#dc4a10" stroke-width="1"/>
<line x1="267.4" y1="649.41" x2="272.4" y2="649.41" stroke="#dc4a10" stroke-width="1"/>
<line x1="267.4" y1="690.2" x2="272.4" y2="690.2" stroke="#dc4a10" stroke-width="1"/>
<circle cx="269.9" cy="642.94" r="2.7" fill="#dc4a10" stroke="none" stroke-width="1"/>
<circle cx="268.9" cy="655.88" r="2.7" fill="#dc4a10" stroke="none" stroke-width="1"/>
<circle cx="270.9" cy="657.18" r="2.7" fill="#dc4a10" stroke="none" stroke-width="1"/>
<circle cx="268.4" cy="672.72" r="2.7" fill="#dc4a10" stroke="none" stroke-width="1"/>
<circle cx="271.4" cy="675.31" r="2.7" fill="#dc4a10" stroke="none" stroke-width="1"/>
<circle cx="269.9" cy="676.61" r="2.7" fill="#dc4a10" stroke="none" stroke-width="1"/>
<circle cx="269.9" cy="707.04" r="2.7" fill="#dc4a10" stroke="none" stroke-width="1"/>
<line x1="288.2" y1="666.25" x2="296.8" y2="666.25" stroke="#f5c94a" stroke-width="1.2"/>
<line x1="292.5" y1="629.34" x2="292.5" y2="703.8" stroke="#f5c94a" stroke-width="1"/>
<line x1="290" y1="629.34" x2="295" y2="629.34" stroke="#f5c94a" stroke-width="1"/>
<line x1="290" y1="703.8" x2="295" y2="703.8" stroke="#f5c94a" stroke-width="1"/>
<rect x="290" y="610.65" width="5" height="5" fill="#f5c94a" stroke="none" stroke-width="1"/>
<rect x="290" y="613.24" width="5" height="5" fill="#f5c94a" stroke="none" stroke-width="1"/>
<rect x="290" y="617.12" width="5" height="5" fill="#f5c94a" stroke="none" stroke-width="1"/>
<rect x="289" y="665.04" width="5" height="5" fill="#f5c94a" stroke="none" stroke-width="1"/>
<rect x="291" y="666.34" width="5" height="5" fill="#f5c94a" stroke="none" stroke-width="1"/>
<rect x="290" y="670.22" width="5" height="5" fill="#f5c94a" stroke="none" stroke-width="1"/>
<rect x="290" y="685.76" width="5" height="5" fill="#f5c94a" stroke="none" stroke-width="1"/>
<rect x="290" y="694.83" width="5" height="5" fill="#f5c94a" stroke="none" stroke-width="1"/>
<rect x="290" y="705.19" width="5" height="5" fill="#f5c94a" stroke="none" stroke-width="1"/>
<line x1="311" y1="675.31" x2="319.6" y2="675.31" stroke="#25c1a5" stroke-width="1.2"/>
<line x1="315.3" y1="658.48" x2="315.3" y2="692.15" stroke="#25c1a5" stroke-width="1"/>
<line x1="312.8" y1="658.48" x2="317.8" y2="658.48" stroke="#25c1a5" stroke-width="1"/>
<line x1="312.8" y1="692.15" x2="317.8" y2="692.15" stroke="#25c1a5" stroke-width="1"/>
<path d="M315.3,646.56 L318.05,651.31 L312.55,651.31 Z" fill="#25c1a5" stroke="none" stroke-width="1"/>
<path d="M316.8,662.1 L319.55,666.85 L314.05,666.85 Z" fill="#25c1a5" stroke="none" stroke-width="1"/>
<path d="M314.3,665.99 L317.05,670.74 L311.55,670.74 Z" fill="#25c1a5" stroke="none" stroke-width="1"/>
<path d="M316.3,668.58 L319.05,673.33 L313.55,673.33 Z" fill="#25c1a5" stroke="none" stroke-width="1"/>
<path d="M314.3,677.64 L317.05,682.39 L311.55,682.39 Z" fill="#25c1a5" stroke="none" stroke-width="1"/>
<path d="M315.3,686.71 L318.05,691.46 L312.55,691.46 Z" fill="#25c1a5" stroke="none" stroke-width="1"/>
<path d="M315.3,700.95 L318.05,705.7 L312.55,705.7 Z" fill="#25c1a5" stroke="none" stroke-width="1"/>
<line x1="333.8" y1="662.36" x2="342.4" y2="662.36" stroke="#8a5ccf" stroke-width="1.2"/>
<line x1="338.1" y1="646.82" x2="338.1" y2="677.9" stroke="#8a5ccf" stroke-width="1"/>
<line x1="335.6" y1="646.82" x2="340.6" y2="646.82" stroke="#8a5ccf" stroke-width="1"/>
<line x1="335.6" y1="677.9" x2="340.6" y2="677.9" stroke="#8a5ccf" stroke-width="1"/>
<path d="M338.1,643.84 L340.85,639.09 L335.35,639.09 Z" fill="#8a5ccf" stroke="none" stroke-width="1"/>
<path d="M338.6,650.97 L341.35,646.22 L335.85,646.22 Z" fill="#8a5ccf" stroke="none" stroke-width="1"/>
<path d="M337.6,652.26 L340.35,647.51 L334.85,647.51 Z" fill="#8a5ccf" stroke="none" stroke-width="1"/>
<path d="M338.1,662.62 L340.85,657.87 L335.35,657.87 Z" fill="#8a5ccf" stroke="none" stroke-width="1"/>
<path d="M338.1,680.75 L340.85,676 L335.35,676 Z" fill="#8a5ccf" stroke="none" stroke-width="1"/>
<path d="M338.1,685.93 L340.85,681.18 L335.35,681.18 Z" fill="#8a5ccf" stroke="none" stroke-width="1"/>
<line x1="399.2" y1="595.7" x2="399.2" y2="730.45" stroke="#111" stroke-width="1.5"/>
<line x1="394.2" y1="729.7" x2="399.2" y2="729.7" stroke="#111" stroke-width="1.35"/>
<text x="392.2" y="732.56" font-size="8" text-anchor="end" fill="#111">0</text>
<line x1="394.2" y1="685.03" x2="399.2" y2="685.03" stroke="#111" stroke-width="1.35"/>
<text x="392.2" y="687.9" font-size="8" text-anchor="end" fill="#111">2</text>
<line x1="394.2" y1="640.37" x2="399.2" y2="640.37" stroke="#111" stroke-width="1.35"/>
<text x="392.2" y="643.23" font-size="8" text-anchor="end" fill="#111">4</text>
<line x1="394.2" y1="595.7" x2="399.2" y2="595.7" stroke="#111" stroke-width="1.35"/>
<text x="392.2" y="598.56" font-size="8" text-anchor="end" fill="#111">6</text>
<line x1="398.45" y1="729.7" x2="637.5" y2="729.7" stroke="#111" stroke-width="1.5"/>
<line x1="399.2" y1="731.2" x2="637.5" y2="731.2" stroke="#333" stroke-width="1.5" stroke-dasharray="1,1"/>
<line x1="427.2" y1="729.7" x2="427.2" y2="734.2" stroke="#111" stroke-width="1.4"/>
<line x1="487.7" y1="729.7" x2="487.7" y2="734.2" stroke="#111" stroke-width="1.4"/>
<line x1="547.8" y1="729.7" x2="547.8" y2="734.2" stroke="#111" stroke-width="1.4"/>
<line x1="608.1" y1="729.7" x2="608.1" y2="734.2" stroke="#111" stroke-width="1.4"/>
<text x="429" y="744.17" font-size="8.3" text-anchor="middle" fill="#000">omental fat</text>
<text x="489.1" y="744.17" font-size="8.3" text-anchor="middle" fill="#000">perinephric fat</text>
<text x="556.8" y="744.17" font-size="8.3" text-anchor="middle" fill="#000">peritesticular fat</text>
<text x="609.3" y="744.17" font-size="8.3" text-anchor="middle" fill="#000">total</text>
<text x="376.5" y="664.97" font-size="8.3" text-anchor="middle" fill="#000" transform="rotate(-90 376.5 662)">Weight (g)</text>
<line x1="404.4" y1="715.85" x2="412.4" y2="715.85" stroke="#dc4a10" stroke-width="1.32"/>
<line x1="408.4" y1="706.25" x2="408.4" y2="723" stroke="#dc4a10" stroke-width="1.1"/>
<line x1="405.9" y1="706.25" x2="410.9" y2="706.25" stroke="#dc4a10" stroke-width="1.1"/>
<line x1="405.9" y1="723" x2="410.9" y2="723" stroke="#dc4a10" stroke-width="1.1"/>
<circle cx="408.4" cy="695.08" r="2.3" fill="#dc4a10" stroke="none" stroke-width="1"/>
<circle cx="407.4" cy="711.83" r="2.3" fill="#dc4a10" stroke="none" stroke-width="1"/>
<circle cx="409.9" cy="712.95" r="2.3" fill="#dc4a10" stroke="none" stroke-width="1"/>
<circle cx="408.4" cy="715.18" r="2.3" fill="#dc4a10" stroke="none" stroke-width="1"/>
<circle cx="406.9" cy="716.3" r="2.3" fill="#dc4a10" stroke="none" stroke-width="1"/>
<circle cx="409.4" cy="718.53" r="2.3" fill="#dc4a10" stroke="none" stroke-width="1"/>
<circle cx="408.4" cy="723" r="2.3" fill="#dc4a10" stroke="none" stroke-width="1"/>
<line x1="417.35" y1="715.18" x2="425.35" y2="715.18" stroke="#f5c94a" stroke-width="1.32"/>
<line x1="421.35" y1="707.37" x2="421.35" y2="719.65" stroke="#f5c94a" stroke-width="1.1"/>
<line x1="418.85" y1="707.37" x2="423.85" y2="707.37" stroke="#f5c94a" stroke-width="1.1"/>
<line x1="418.85" y1="719.65" x2="423.85" y2="719.65" stroke="#f5c94a" stroke-width="1.1"/>
<rect x="420.15" y="702.93" width="4.4" height="4.4" fill="#f5c94a" stroke="none" stroke-width="1"/>
<rect x="419.15" y="705.17" width="4.4" height="4.4" fill="#f5c94a" stroke="none" stroke-width="1"/>
<rect x="418.15" y="707.4" width="4.4" height="4.4" fill="#f5c94a" stroke="none" stroke-width="1"/>
<rect x="420.15" y="711.87" width="4.4" height="4.4" fill="#f5c94a" stroke="none" stroke-width="1"/>
<rect x="418.15" y="714.1" width="4.4" height="4.4" fill="#f5c94a" stroke="none" stroke-width="1"/>
<rect x="419.15" y="716.33" width="4.4" height="4.4" fill="#f5c94a" stroke="none" stroke-width="1"/>
<rect x="420.65" y="716.33" width="4.4" height="4.4" fill="#f5c94a" stroke="none" stroke-width="1"/>
<line x1="430.3" y1="714.51" x2="438.3" y2="714.51" stroke="#25c1a5" stroke-width="1.32"/>
<line x1="434.3" y1="710.72" x2="434.3" y2="718.53" stroke="#25c1a5" stroke-width="1.1"/>
<line x1="431.8" y1="710.72" x2="436.8" y2="710.72" stroke="#25c1a5" stroke-width="1.1"/>
<line x1="431.8" y1="718.53" x2="436.8" y2="718.53" stroke="#25c1a5" stroke-width="1.1"/>
<path d="M434.3,704.86 L436.72,709.04 L431.88,709.04 Z" fill="#25c1a5" stroke="none" stroke-width="1"/>
<path d="M433.3,709.33 L435.72,713.51 L430.88,713.51 Z" fill="#25c1a5" stroke="none" stroke-width="1"/>
<path d="M435.3,711.56 L437.72,715.74 L432.88,715.74 Z" fill="#25c1a5" stroke="none" stroke-width="1"/>
<path d="M434.3,713.79 L436.72,717.97 L431.88,717.97 Z" fill="#25c1a5" stroke="none" stroke-width="1"/>
<path d="M433.3,716.03 L435.72,720.21 L430.88,720.21 Z" fill="#25c1a5" stroke="none" stroke-width="1"/>
<path d="M435.3,716.03 L437.72,720.21 L432.88,720.21 Z" fill="#25c1a5" stroke="none" stroke-width="1"/>
<line x1="443.25" y1="715.18" x2="451.25" y2="715.18" stroke="#8a5ccf" stroke-width="1.32"/>
<line x1="447.25" y1="710.72" x2="447.25" y2="719.65" stroke="#8a5ccf" stroke-width="1.1"/>
<line x1="444.75" y1="710.72" x2="449.75" y2="710.72" stroke="#8a5ccf" stroke-width="1.1"/>
<line x1="444.75" y1="719.65" x2="449.75" y2="719.65" stroke="#8a5ccf" stroke-width="1.1"/>
<path d="M447.25,707.64 L449.67,703.46 L444.83,703.46 Z" fill="#8a5ccf" stroke="none" stroke-width="1"/>
<path d="M446.25,714.34 L448.67,710.16 L443.83,710.16 Z" fill="#8a5ccf" stroke="none" stroke-width="1"/>
<path d="M448.25,718.81 L450.67,714.63 L445.83,714.63 Z" fill="#8a5ccf" stroke="none" stroke-width="1"/>
<path d="M447.25,721.04 L449.67,716.86 L444.83,716.86 Z" fill="#8a5ccf" stroke="none" stroke-width="1"/>
<path d="M446.25,722.16 L448.67,717.98 L443.83,717.98 Z" fill="#8a5ccf" stroke="none" stroke-width="1"/>
<line x1="464.4" y1="713.62" x2="472.4" y2="713.62" stroke="#dc4a10" stroke-width="1.32"/>
<line x1="468.4" y1="706.25" x2="468.4" y2="719.65" stroke="#dc4a10" stroke-width="1.1"/>
<line x1="465.9" y1="706.25" x2="470.9" y2="706.25" stroke="#dc4a10" stroke-width="1.1"/>
<line x1="465.9" y1="719.65" x2="470.9" y2="719.65" stroke="#dc4a10" stroke-width="1.1"/>
<circle cx="468.4" cy="697.99" r="2.3" fill="#dc4a10" stroke="none" stroke-width="1"/>
<circle cx="467.4" cy="709.6" r="2.3" fill="#dc4a10" stroke="none" stroke-width="1"/>
<circle cx="469.4" cy="711.83" r="2.3" fill="#dc4a10" stroke="none" stroke-width="1"/>
<circle cx="468.4" cy="714.07" r="2.3" fill="#dc4a10" stroke="none" stroke-width="1"/>
<circle cx="466.9" cy="716.3" r="2.3" fill="#dc4a10" stroke="none" stroke-width="1"/>
<circle cx="469.4" cy="717.42" r="2.3" fill="#dc4a10" stroke="none" stroke-width="1"/>
<circle cx="468.4" cy="723" r="2.3" fill="#dc4a10" stroke="none" stroke-width="1"/>
<line x1="477.35" y1="713.62" x2="485.35" y2="713.62" stroke="#f5c94a" stroke-width="1.32"/>
<line x1="481.35" y1="708.48" x2="481.35" y2="718.53" stroke="#f5c94a" stroke-width="1.1"/>
<line x1="478.85" y1="708.48" x2="483.85" y2="708.48" stroke="#f5c94a" stroke-width="1.1"/>
<line x1="478.85" y1="718.53" x2="483.85" y2="718.53" stroke="#f5c94a" stroke-width="1.1"/>
<rect x="479.15" y="706.28" width="4.4" height="4.4" fill="#f5c94a" stroke="none" stroke-width="1"/>
<rect x="480.15" y="707.4" width="4.4" height="4.4" fill="#f5c94a" stroke="none" stroke-width="1"/>
<rect x="478.15" y="709.63" width="4.4" height="4.4" fill="#f5c94a" stroke="none" stroke-width="1"/>
<rect x="479.15" y="711.87" width="4.4" height="4.4" fill="#f5c94a" stroke="none" stroke-width="1"/>
<rect x="480.15" y="714.1" width="4.4" height="4.4" fill="#f5c94a" stroke="none" stroke-width="1"/>
<rect x="478.15" y="715.22" width="4.4" height="4.4" fill="#f5c94a" stroke="none" stroke-width="1"/>
<rect x="479.15" y="716.33" width="4.4" height="4.4" fill="#f5c94a" stroke="none" stroke-width="1"/>
<line x1="490.3" y1="716.3" x2="498.3" y2="716.3" stroke="#25c1a5" stroke-width="1.32"/>
<line x1="494.3" y1="712.28" x2="494.3" y2="720.77" stroke="#25c1a5" stroke-width="1.1"/>
<line x1="491.8" y1="712.28" x2="496.8" y2="712.28" stroke="#25c1a5" stroke-width="1.1"/>
<line x1="491.8" y1="720.77" x2="496.8" y2="720.77" stroke="#25c1a5" stroke-width="1.1"/>
<path d="M494.3,709.33 L496.72,713.51 L491.88,713.51 Z" fill="#25c1a5" stroke="none" stroke-width="1"/>
<path d="M493.3,711.56 L495.72,715.74 L490.88,715.74 Z" fill="#25c1a5" stroke="none" stroke-width="1"/>
<path d="M495.3,713.79 L497.72,717.97 L492.88,717.97 Z" fill="#25c1a5" stroke="none" stroke-width="1"/>
<path d="M494.3,714.91 L496.72,719.09 L491.88,719.09 Z" fill="#25c1a5" stroke="none" stroke-width="1"/>
<path d="M493.3,716.03 L495.72,720.21 L490.88,720.21 Z" fill="#25c1a5" stroke="none" stroke-width="1"/>
<path d="M495.3,718.26 L497.72,722.44 L492.88,722.44 Z" fill="#25c1a5" stroke="none" stroke-width="1"/>
<path d="M494.3,722.73 L496.72,726.91 L491.88,726.91 Z" fill="#25c1a5" stroke="none" stroke-width="1"/>
<line x1="503.25" y1="714.51" x2="511.25" y2="714.51" stroke="#8a5ccf" stroke-width="1.32"/>
<line x1="507.25" y1="709.6" x2="507.25" y2="718.53" stroke="#8a5ccf" stroke-width="1.1"/>
<line x1="504.75" y1="709.6" x2="509.75" y2="709.6" stroke="#8a5ccf" stroke-width="1.1"/>
<line x1="504.75" y1="718.53" x2="509.75" y2="718.53" stroke="#8a5ccf" stroke-width="1.1"/>
<path d="M507.25,710.99 L509.67,706.81 L504.83,706.81 Z" fill="#8a5ccf" stroke="none" stroke-width="1"/>
<path d="M508.25,713.22 L510.67,709.04 L505.83,709.04 Z" fill="#8a5ccf" stroke="none" stroke-width="1"/>
<path d="M506.25,716.57 L508.67,712.39 L503.83,712.39 Z" fill="#8a5ccf" stroke="none" stroke-width="1"/>
<path d="M507.25,718.81 L509.67,714.63 L504.83,714.63 Z" fill="#8a5ccf" stroke="none" stroke-width="1"/>
<path d="M508.25,721.04 L510.67,716.86 L505.83,716.86 Z" fill="#8a5ccf" stroke="none" stroke-width="1"/>
<line x1="524.4" y1="690.17" x2="532.4" y2="690.17" stroke="#dc4a10" stroke-width="1.32"/>
<line x1="528.4" y1="676.77" x2="528.4" y2="699.33" stroke="#dc4a10" stroke-width="1.1"/>
<line x1="525.9" y1="676.77" x2="530.9" y2="676.77" stroke="#dc4a10" stroke-width="1.1"/>
<line x1="525.9" y1="699.33" x2="530.9" y2="699.33" stroke="#dc4a10" stroke-width="1.1"/>
<circle cx="528.4" cy="673.2" r="2.3" fill="#dc4a10" stroke="none" stroke-width="1"/>
<circle cx="527.4" cy="679.23" r="2.3" fill="#dc4a10" stroke="none" stroke-width="1"/>
<circle cx="529.9" cy="681.91" r="2.3" fill="#dc4a10" stroke="none" stroke-width="1"/>
<circle cx="527.4" cy="690.17" r="2.3" fill="#dc4a10" stroke="none" stroke-width="1"/>
<circle cx="529.4" cy="690.17" r="2.3" fill="#dc4a10" stroke="none" stroke-width="1"/>
<circle cx="528.4" cy="702.45" r="2.3" fill="#dc4a10" stroke="none" stroke-width="1"/>
<circle cx="528.4" cy="711.16" r="2.3" fill="#dc4a10" stroke="none" stroke-width="1"/>
<line x1="537.35" y1="687.49" x2="545.35" y2="687.49" stroke="#f5c94a" stroke-width="1.32"/>
<line x1="541.35" y1="667.17" x2="541.35" y2="702.9" stroke="#f5c94a" stroke-width="1.1"/>
<line x1="538.85" y1="667.17" x2="543.85" y2="667.17" stroke="#f5c94a" stroke-width="1.1"/>
<line x1="538.85" y1="702.9" x2="543.85" y2="702.9" stroke="#f5c94a" stroke-width="1.1"/>
<rect x="539.95" y="664.3" width="4.4" height="4.4" fill="#f5c94a" stroke="none" stroke-width="1"/>
<rect x="539.15" y="666.31" width="4.4" height="4.4" fill="#f5c94a" stroke="none" stroke-width="1"/>
<rect x="539.15" y="674.57" width="4.4" height="4.4" fill="#f5c94a" stroke="none" stroke-width="1"/>
<rect x="538.15" y="696.68" width="4.4" height="4.4" fill="#f5c94a" stroke="none" stroke-width="1"/>
<rect x="540.15" y="698.24" width="4.4" height="4.4" fill="#f5c94a" stroke="none" stroke-width="1"/>
<rect x="539.15" y="700.25" width="4.4" height="4.4" fill="#f5c94a" stroke="none" stroke-width="1"/>
<line x1="550.3" y1="685.93" x2="558.3" y2="685.93" stroke="#25c1a5" stroke-width="1.32"/>
<line x1="554.3" y1="676.77" x2="554.3" y2="698.88" stroke="#25c1a5" stroke-width="1.1"/>
<line x1="551.8" y1="676.77" x2="556.8" y2="676.77" stroke="#25c1a5" stroke-width="1.1"/>
<line x1="551.8" y1="698.88" x2="556.8" y2="698.88" stroke="#25c1a5" stroke-width="1.1"/>
<path d="M554.3,669.13 L556.72,673.31 L551.88,673.31 Z" fill="#25c1a5" stroke="none" stroke-width="1"/>
<path d="M553.3,674.93 L555.72,679.11 L550.88,679.11 Z" fill="#25c1a5" stroke="none" stroke-width="1"/>
<path d="M554.8,678.73 L557.22,682.91 L552.38,682.91 Z" fill="#25c1a5" stroke="none" stroke-width="1"/>
<path d="M554.3,692.13 L556.72,696.31 L551.88,696.31 Z" fill="#25c1a5" stroke="none" stroke-width="1"/>
<path d="M554.3,705.53 L556.72,709.71 L551.88,709.71 Z" fill="#25c1a5" stroke="none" stroke-width="1"/>
<line x1="563.25" y1="685.93" x2="571.25" y2="685.93" stroke="#8a5ccf" stroke-width="1.32"/>
<line x1="567.25" y1="673.2" x2="567.25" y2="698.88" stroke="#8a5ccf" stroke-width="1.1"/>
<line x1="564.75" y1="673.2" x2="569.75" y2="673.2" stroke="#8a5ccf" stroke-width="1.1"/>
<line x1="564.75" y1="698.88" x2="569.75" y2="698.88" stroke="#8a5ccf" stroke-width="1.1"/>
<path d="M567.25,664.98 L569.67,660.8 L564.83,660.8 Z" fill="#8a5ccf" stroke="none" stroke-width="1"/>
<path d="M567.25,692.01 L569.67,687.83 L564.83,687.83 Z" fill="#8a5ccf" stroke="none" stroke-width="1"/>
<path d="M567.25,693.57 L569.67,689.39 L564.83,689.39 Z" fill="#8a5ccf" stroke="none" stroke-width="1"/>
<path d="M567.25,704.96 L569.67,700.78 L564.83,700.78 Z" fill="#8a5ccf" stroke="none" stroke-width="1"/>
<line x1="584.8" y1="657.34" x2="592.8" y2="657.34" stroke="#dc4a10" stroke-width="1.32"/>
<line x1="588.8" y1="629.65" x2="588.8" y2="684.36" stroke="#dc4a10" stroke-width="1.1"/>
<line x1="586.3" y1="629.65" x2="591.3" y2="629.65" stroke="#dc4a10" stroke-width="1.1"/>
<line x1="586.3" y1="684.36" x2="591.3" y2="684.36" stroke="#dc4a10" stroke-width="1.1"/>
<circle cx="588.8" cy="614.91" r="2.3" fill="#dc4a10" stroke="none" stroke-width="1"/>
<circle cx="588.8" cy="635.23" r="2.3" fill="#dc4a10" stroke="none" stroke-width="1"/>
<circle cx="588.8" cy="646.4" r="2.3" fill="#dc4a10" stroke="none" stroke-width="1"/>
<circle cx="588.8" cy="660.91" r="2.3" fill="#dc4a10" stroke="none" stroke-width="1"/>
<circle cx="588.8" cy="668.28" r="2.3" fill="#dc4a10" stroke="none" stroke-width="1"/>
<circle cx="588.8" cy="682.58" r="2.3" fill="#dc4a10" stroke="none" stroke-width="1"/>
<circle cx="588.8" cy="692.18" r="2.3" fill="#dc4a10" stroke="none" stroke-width="1"/>
<line x1="597.75" y1="656.67" x2="605.75" y2="656.67" stroke="#f5c94a" stroke-width="1.32"/>
<line x1="601.75" y1="628.08" x2="601.75" y2="682.13" stroke="#f5c94a" stroke-width="1.1"/>
<line x1="599.25" y1="628.08" x2="604.25" y2="628.08" stroke="#f5c94a" stroke-width="1.1"/>
<line x1="599.25" y1="682.13" x2="604.25" y2="682.13" stroke="#f5c94a" stroke-width="1.1"/>
<rect x="599.55" y="619.85" width="4.4" height="4.4" fill="#f5c94a" stroke="none" stroke-width="1"/>
<rect x="599.55" y="626.33" width="4.4" height="4.4" fill="#f5c94a" stroke="none" stroke-width="1"/>
<rect x="599.55" y="633.03" width="4.4" height="4.4" fill="#f5c94a" stroke="none" stroke-width="1"/>
<rect x="599.55" y="674.57" width="4.4" height="4.4" fill="#f5c94a" stroke="none" stroke-width="1"/>
<rect x="600.55" y="676.13" width="4.4" height="4.4" fill="#f5c94a" stroke="none" stroke-width="1"/>
<rect x="598.55" y="677.7" width="4.4" height="4.4" fill="#f5c94a" stroke="none" stroke-width="1"/>
<line x1="610.7" y1="658.01" x2="618.7" y2="658.01" stroke="#25c1a5" stroke-width="1.32"/>
<line x1="614.7" y1="638.8" x2="614.7" y2="679.23" stroke="#25c1a5" stroke-width="1.1"/>
<line x1="612.2" y1="638.8" x2="617.2" y2="638.8" stroke="#25c1a5" stroke-width="1.1"/>
<line x1="612.2" y1="679.23" x2="617.2" y2="679.23" stroke="#25c1a5" stroke-width="1.1"/>
<path d="M615.5,635.18 L617.92,639.36 L613.08,639.36 Z" fill="#25c1a5" stroke="none" stroke-width="1"/>
<path d="M614.2,637.41 L616.62,641.59 L611.78,641.59 Z" fill="#25c1a5" stroke="none" stroke-width="1"/>
<path d="M614.7,653.72 L617.12,657.9 L612.28,657.9 Z" fill="#25c1a5" stroke="none" stroke-width="1"/>
<path d="M614.7,671.58 L617.12,675.76 L612.28,675.76 Z" fill="#25c1a5" stroke="none" stroke-width="1"/>
<path d="M614.7,687.66 L617.12,691.84 L612.28,691.84 Z" fill="#25c1a5" stroke="none" stroke-width="1"/>
<line x1="623.65" y1="656.22" x2="631.65" y2="656.22" stroke="#8a5ccf" stroke-width="1.32"/>
<line x1="627.65" y1="634.11" x2="627.65" y2="678.33" stroke="#8a5ccf" stroke-width="1.1"/>
<line x1="625.15" y1="634.11" x2="630.15" y2="634.11" stroke="#8a5ccf" stroke-width="1.1"/>
<line x1="625.15" y1="678.33" x2="630.15" y2="678.33" stroke="#8a5ccf" stroke-width="1.1"/>
<path d="M627.65,619.42 L630.07,615.24 L625.23,615.24 Z" fill="#8a5ccf" stroke="none" stroke-width="1"/>
<path d="M627.65,665.88 L630.07,661.7 L625.23,661.7 Z" fill="#8a5ccf" stroke="none" stroke-width="1"/>
<path d="M627.65,667.89 L630.07,663.71 L625.23,663.71 Z" fill="#8a5ccf" stroke="none" stroke-width="1"/>
<path d="M627.65,686.42 L630.07,682.24 L625.23,682.24 Z" fill="#8a5ccf" stroke="none" stroke-width="1"/>
<line x1="646.9" y1="590" x2="661" y2="590" stroke="#dc4a10" stroke-width="1.6"/>
<circle cx="653.95" cy="590" r="3" fill="#dc4a10" stroke="none" stroke-width="1"/>
<text x="668.9" y="592.61" font-size="7.3" text-anchor="start" fill="#000">RPL</text>
<line x1="646.9" y1="603.7" x2="661" y2="603.7" stroke="#f5c94a" stroke-width="1.6"/>
<rect x="651.05" y="600.8" width="5.8" height="5.8" fill="#f5c94a" stroke="none" stroke-width="1"/>
<text x="668.9" y="606.31" font-size="7.3" text-anchor="start" fill="#000">RPD</text>
<line x1="646.9" y1="617.5" x2="661" y2="617.5" stroke="#25c1a5" stroke-width="1.6"/>
<path d="M653.95,613.97 L657.36,619.86 L650.54,619.86 Z" fill="#25c1a5" stroke="none" stroke-width="1"/>
<text x="668.9" y="620.11" font-size="7.3" text-anchor="start" fill="#000">RML</text>
<line x1="646.9" y1="631.2" x2="661" y2="631.2" stroke="#8a5ccf" stroke-width="1.6"/>
<path d="M653.95,634.73 L657.36,628.84 L650.54,628.84 Z" fill="#8a5ccf" stroke="none" stroke-width="1"/>
<text x="668.9" y="633.81" font-size="7.3" text-anchor="start" fill="#000">RMD</text>
<text x="14.1" y="802.17" font-size="8.3" text-anchor="middle" fill="#000">E</text>
<rect x="58.3" y="804.1" width="31.42" height="29.8" fill="#86b6d6" stroke="none" stroke-width="1"/>
<rect x="89.72" y="804.1" width="31.42" height="29.8" fill="#a9d3e4" stroke="none" stroke-width="1"/>
<rect x="121.13" y="804.1" width="31.42" height="29.8" fill="#a9d3e4" stroke="none" stroke-width="1"/>
<rect x="152.55" y="804.1" width="31.42" height="29.8" fill="#a3cee2" stroke="none" stroke-width="1"/>
<rect x="183.97" y="804.1" width="31.42" height="29.8" fill="#a3cee2" stroke="none" stroke-width="1"/>
<rect x="215.38" y="804.1" width="31.42" height="29.8" fill="#c9e5ef" stroke="none" stroke-width="1"/>
<rect x="246.8" y="804.1" width="31.42" height="29.8" fill="#c9e5ef" stroke="none" stroke-width="1"/>
<rect x="278.22" y="804.1" width="31.42" height="29.8" fill="#e9f2dd" stroke="none" stroke-width="1"/>
<rect x="309.63" y="804.1" width="31.42" height="29.8" fill="#c2e1ec" stroke="none" stroke-width="1"/>
<rect x="341.05" y="804.1" width="31.42" height="29.8" fill="#e9f2dd" stroke="none" stroke-width="1"/>
<rect x="372.47" y="804.1" width="31.42" height="29.8" fill="#e6f0e0" stroke="none" stroke-width="1"/>
<rect x="403.88" y="804.1" width="31.42" height="29.8" fill="#f5f3c2" stroke="none" stroke-width="1"/>
<rect x="58.3" y="833.9" width="31.42" height="29.8" fill="#a21e2a" stroke="none" stroke-width="1"/>
<rect x="89.72" y="833.9" width="31.42" height="29.8" fill="#d94a34" stroke="none" stroke-width="1"/>
<rect x="121.13" y="833.9" width="31.42" height="29.8" fill="#bd2127" stroke="none" stroke-width="1"/>
<rect x="152.55" y="833.9" width="31.42" height="29.8" fill="#f7d58c" stroke="none" stroke-width="1"/>
<rect x="183.97" y="833.9" width="31.42" height="29.8" fill="#f5dc90" stroke="none" stroke-width="1"/>
<rect x="215.38" y="833.9" width="31.42" height="29.8" fill="#ee8a50" stroke="none" stroke-width="1"/>
<rect x="246.8" y="833.9" width="31.42" height="29.8" fill="#e05a39" stroke="none" stroke-width="1"/>
<rect x="278.22" y="833.9" width="31.42" height="29.8" fill="#f6d68c" stroke="none" stroke-width="1"/>
<rect x="309.63" y="833.9" width="31.42" height="29.8" fill="#e3653f" stroke="none" stroke-width="1"/>
<rect x="341.05" y="833.9" width="31.42" height="29.8" fill="#f3bb71" stroke="none" stroke-width="1"/>
<rect x="372.47" y="833.9" width="31.42" height="29.8" fill="#f7e4a0" stroke="none" stroke-width="1"/>
<rect x="403.88" y="833.9" width="31.42" height="29.8" fill="#f7eba8" stroke="none" stroke-width="1"/>
<rect x="58.3" y="863.7" width="31.42" height="29.8" fill="#3d70ad" stroke="none" stroke-width="1"/>
<rect x="89.72" y="863.7" width="31.42" height="29.8" fill="#5a88bc" stroke="none" stroke-width="1"/>
<rect x="121.13" y="863.7" width="31.42" height="29.8" fill="#3a5ba0" stroke="none" stroke-width="1"/>
<rect x="152.55" y="863.7" width="31.42" height="29.8" fill="#cce7f0" stroke="none" stroke-width="1"/>
<rect x="183.97" y="863.7" width="31.42" height="29.8" fill="#e8f2e0" stroke="none" stroke-width="1"/>
<rect x="215.38" y="863.7" width="31.42" height="29.8" fill="#89b8d5" stroke="none" stroke-width="1"/>
<rect x="246.8" y="863.7" width="31.42" height="29.8" fill="#92bfd9" stroke="none" stroke-width="1"/>
<rect x="278.22" y="863.7" width="31.42" height="29.8" fill="#f5f4c5" stroke="none" stroke-width="1"/>
<rect x="309.63" y="863.7" width="31.42" height="29.8" fill="#e6f0e6" stroke="none" stroke-width="1"/>
<rect x="341.05" y="863.7" width="31.42" height="29.8" fill="#c8e4ee" stroke="none" stroke-width="1"/>
<rect x="372.47" y="863.7" width="31.42" height="29.8" fill="#f3f4c9" stroke="none" stroke-width="1"/>
<rect x="403.88" y="863.7" width="31.42" height="29.8" fill="#f5e8a9" stroke="none" stroke-width="1"/>
<rect x="58.3" y="893.5" width="31.42" height="29.8" fill="#f7e6a4" stroke="none" stroke-width="1"/>
<rect x="89.72" y="893.5" width="31.42" height="29.8" fill="#f3c47d" stroke="none" stroke-width="1"/>
<rect x="121.13" y="893.5" width="31.42" height="29.8" fill="#f3d88c" stroke="none" stroke-width="1"/>
<rect x="152.55" y="893.5" width="31.42" height="29.8" fill="#eb8950" stroke="none" stroke-width="1"/>
<rect x="183.97" y="893.5" width="31.42" height="29.8" fill="#f1a869" stroke="none" stroke-width="1"/>
<rect x="215.38" y="893.5" width="31.42" height="29.8" fill="#f3bc79" stroke="none" stroke-width="1"/>
<rect x="246.8" y="893.5" width="31.42" height="29.8" fill="#f6e2a0" stroke="none" stroke-width="1"/>
<rect x="278.22" y="893.5" width="31.42" height="29.8" fill="#f7f1bc" stroke="none" stroke-width="1"/>
<rect x="309.63" y="893.5" width="31.42" height="29.8" fill="#e9f0dc" stroke="none" stroke-width="1"/>
<rect x="341.05" y="893.5" width="31.42" height="29.8" fill="#f6d892" stroke="none" stroke-width="1"/>
<rect x="372.47" y="893.5" width="31.42" height="29.8" fill="#f4d08a" stroke="none" stroke-width="1"/>
<rect x="403.88" y="893.5" width="31.42" height="29.8" fill="#f5f0b8" stroke="none" stroke-width="1"/>
<line x1="58.3" y1="804.1" x2="58.3" y2="923.3" stroke="#9c9c9c" stroke-width="1.1"/>
<line x1="89.72" y1="804.1" x2="89.72" y2="923.3" stroke="#9c9c9c" stroke-width="1.1"/>
<line x1="121.13" y1="804.1" x2="121.13" y2="923.3" stroke="#9c9c9c" stroke-width="1.1"/>
<line x1="152.55" y1="804.1" x2="152.55" y2="923.3" stroke="#9c9c9c" stroke-width="1.1"/>
<line x1="183.97" y1="804.1" x2="183.97" y2="923.3" stroke="#9c9c9c" stroke-width="1.1"/>
<line x1="215.38" y1="804.1" x2="215.38" y2="923.3" stroke="#9c9c9c" stroke-width="1.1"/>
<line x1="246.8" y1="804.1" x2="246.8" y2="923.3" stroke="#9c9c9c" stroke-width="1.1"/>
<line x1="278.22" y1="804.1" x2="278.22" y2="923.3" stroke="#9c9c9c" stroke-width="1.1"/>
<line x1="309.63" y1="804.1" x2="309.63" y2="923.3" stroke="#9c9c9c" stroke-width="1.1"/>
<line x1="341.05" y1="804.1" x2="341.05" y2="923.3" stroke="#9c9c9c" stroke-width="1.1"/>
<line x1="372.47" y1="804.1" x2="372.47" y2="923.3" stroke="#9c9c9c" stroke-width="1.1"/>
<line x1="403.88" y1="804.1" x2="403.88" y2="923.3" stroke="#9c9c9c" stroke-width="1.1"/>
<line x1="435.3" y1="804.1" x2="435.3" y2="923.3" stroke="#9c9c9c" stroke-width="1.1"/>
<line x1="58.3" y1="804.1" x2="435.3" y2="804.1" stroke="#9c9c9c" stroke-width="1.1"/>
<line x1="58.3" y1="833.9" x2="435.3" y2="833.9" stroke="#9c9c9c" stroke-width="1.1"/>
<line x1="58.3" y1="863.7" x2="435.3" y2="863.7" stroke="#9c9c9c" stroke-width="1.1"/>
<line x1="58.3" y1="893.5" x2="435.3" y2="893.5" stroke="#9c9c9c" stroke-width="1.1"/>
<line x1="58.3" y1="923.3" x2="435.3" y2="923.3" stroke="#9c9c9c" stroke-width="1.1"/>
<text x="41" y="826.94" font-size="8.2" text-anchor="middle" fill="#000">RPL</text>
<text x="41" y="856.74" font-size="8.2" text-anchor="middle" fill="#000">RPD</text>
<text x="41" y="886.54" font-size="8.2" text-anchor="middle" fill="#000">RML</text>
<text x="41" y="916.34" font-size="8.2" text-anchor="middle" fill="#000">RMD</text>
<text x="71.81" y="934.04" font-size="8.5" text-anchor="middle" fill="#000">C14:0</text>
<text x="103.22" y="934.04" font-size="8.5" text-anchor="middle" fill="#000">C16:0</text>
<text x="134.64" y="934.04" font-size="8.5" text-anchor="middle" fill="#000">C18:0</text>
<text x="166.06" y="934.04" font-size="8.5" text-anchor="middle" fill="#000">C16:1</text>
<text x="197.48" y="934.04" font-size="8.5" text-anchor="middle" fill="#000">C18:1</text>
<text x="228.89" y="934.04" font-size="8.5" text-anchor="middle" fill="#000">C18:2</text>
<text x="260.31" y="934.04" font-size="8.5" text-anchor="middle" fill="#000">C18:3</text>
<text x="291.73" y="934.04" font-size="8.5" text-anchor="middle" fill="#000">C20:3</text>
<text x="323.14" y="934.04" font-size="8.5" text-anchor="middle" fill="#000">C20 :4</text>
<text x="354.56" y="934.04" font-size="8.5" text-anchor="middle" fill="#000">C22:4</text>
<text x="385.98" y="934.04" font-size="8.5" text-anchor="middle" fill="#000">C22:5</text>
<text x="417.39" y="934.04" font-size="8.5" text-anchor="middle" fill="#000">C22:6</text>
<circle cx="71.51" cy="800.3" r="0.95" fill="#222" stroke="none" stroke-width="1"/>
<circle cx="102.92" cy="800.3" r="0.95" fill="#222" stroke="none" stroke-width="1"/>
<circle cx="134.34" cy="800.3" r="0.95" fill="#222" stroke="none" stroke-width="1"/>
<circle cx="228.59" cy="800.3" r="0.95" fill="#222" stroke="none" stroke-width="1"/>
<circle cx="260.01" cy="800.3" r="0.95" fill="#222" stroke="none" stroke-width="1"/>
<defs><linearGradient id="cb" x1="0" y1="0" x2="0" y2="1"><stop offset="0" stop-color="#a8202f"/><stop offset="0.12" stop-color="#cc3c36"/><stop offset="0.25" stop-color="#e8784a"/><stop offset="0.35" stop-color="#f0a860"/><stop offset="0.45" stop-color="#f2d68e"/><stop offset="0.55" stop-color="#f2f2c0"/><stop offset="0.62" stop-color="#e0f0f0"/><stop offset="0.72" stop-color="#a8d0e0"/><stop offset="0.82" stop-color="#6a9ec8"/><stop offset="0.92" stop-color="#3a68a8"/><stop offset="1.0" stop-color="#2a3a8a"/></linearGradient></defs>
<rect x="448.2" y="829.7" width="6.2" height="91.8" fill="url(#cb)" stroke="none" stroke-width="1"/>
<text x="456.9" y="832.74" font-size="8.5" text-anchor="start" fill="#000">1.2</text>
<text x="456.9" y="858.84" font-size="8.5" text-anchor="start" fill="#000">1</text>
<text x="456.9" y="885.34" font-size="8.5" text-anchor="start" fill="#000">0.8</text>
<text x="456.9" y="911.64" font-size="8.5" text-anchor="start" fill="#000">0.6</text>
</svg></body></html>
